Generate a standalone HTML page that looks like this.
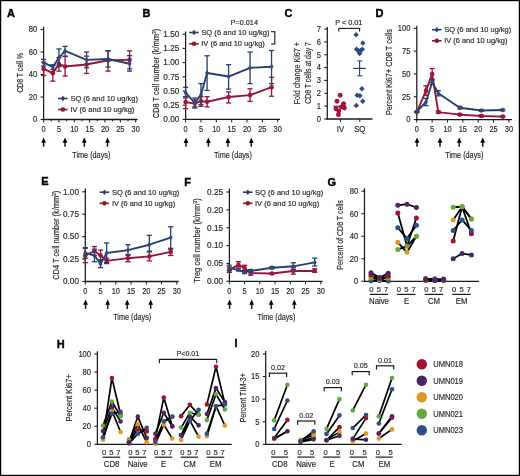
<!DOCTYPE html>
<html><head><meta charset="utf-8"><title>Figure</title>
<style>
html,body{margin:0;padding:0;background:#fff;}
body{width:520px;height:476px;overflow:hidden;}
svg{display:block;font-family:"Liberation Sans",sans-serif;}
svg{will-change:transform;}
text{stroke:#333;stroke-width:0.18px;}
</style></head>
<body>
<svg width="520" height="476" viewBox="0 0 520 476">
<rect x="0" y="0" width="520" height="476" fill="#fff"/>
<text x="7" y="16.6" font-size="11" text-anchor="start" fill="#000" font-weight="bold" style="stroke:#000;stroke-width:0.4px">A</text>
<line x1="43.6" y1="26.6" x2="43.6" y2="120.1" stroke="#1a1a1a" stroke-width="1.25" stroke-linecap="butt"/>
<line x1="40.6" y1="119.5" x2="43.6" y2="119.5" stroke="#1a1a1a" stroke-width="1.1" stroke-linecap="butt"/>
<text x="37.3" y="122.3" font-size="8.2" text-anchor="end" fill="#262626" textLength="4.24" lengthAdjust="spacingAndGlyphs">0</text>
<line x1="40.6" y1="97" x2="43.6" y2="97" stroke="#1a1a1a" stroke-width="1.1" stroke-linecap="butt"/>
<text x="37.3" y="99.8" font-size="8.2" text-anchor="end" fill="#262626" textLength="8.48" lengthAdjust="spacingAndGlyphs">20</text>
<line x1="40.6" y1="74.5" x2="43.6" y2="74.5" stroke="#1a1a1a" stroke-width="1.1" stroke-linecap="butt"/>
<text x="37.3" y="77.3" font-size="8.2" text-anchor="end" fill="#262626" textLength="8.48" lengthAdjust="spacingAndGlyphs">40</text>
<line x1="40.6" y1="52" x2="43.6" y2="52" stroke="#1a1a1a" stroke-width="1.1" stroke-linecap="butt"/>
<text x="37.3" y="54.8" font-size="8.2" text-anchor="end" fill="#262626" textLength="8.48" lengthAdjust="spacingAndGlyphs">60</text>
<line x1="40.6" y1="29.5" x2="43.6" y2="29.5" stroke="#1a1a1a" stroke-width="1.1" stroke-linecap="butt"/>
<text x="37.3" y="32.3" font-size="8.2" text-anchor="end" fill="#262626" textLength="8.48" lengthAdjust="spacingAndGlyphs">80</text>
<line x1="43" y1="119.5" x2="137.5" y2="119.5" stroke="#1a1a1a" stroke-width="1.3" stroke-linecap="butt"/>
<line x1="43.6" y1="119.5" x2="43.6" y2="122.5" stroke="#1a1a1a" stroke-width="1" stroke-linecap="butt"/>
<text x="43.6" y="132.4" font-size="8.2" text-anchor="middle" fill="#262626" textLength="4.1" lengthAdjust="spacingAndGlyphs">0</text>
<line x1="51.27" y1="119.5" x2="51.27" y2="121.3" stroke="#1a1a1a" stroke-width="1" stroke-linecap="butt"/>
<line x1="58.95" y1="119.5" x2="58.95" y2="122.5" stroke="#1a1a1a" stroke-width="1" stroke-linecap="butt"/>
<text x="58.95" y="132.4" font-size="8.2" text-anchor="middle" fill="#262626" textLength="4.1" lengthAdjust="spacingAndGlyphs">5</text>
<line x1="66.62" y1="119.5" x2="66.62" y2="121.3" stroke="#1a1a1a" stroke-width="1" stroke-linecap="butt"/>
<line x1="74.3" y1="119.5" x2="74.3" y2="122.5" stroke="#1a1a1a" stroke-width="1" stroke-linecap="butt"/>
<text x="74.3" y="132.4" font-size="8.2" text-anchor="middle" fill="#262626" textLength="8.21" lengthAdjust="spacingAndGlyphs">10</text>
<line x1="81.97" y1="119.5" x2="81.97" y2="121.3" stroke="#1a1a1a" stroke-width="1" stroke-linecap="butt"/>
<line x1="89.65" y1="119.5" x2="89.65" y2="122.5" stroke="#1a1a1a" stroke-width="1" stroke-linecap="butt"/>
<text x="89.65" y="132.4" font-size="8.2" text-anchor="middle" fill="#262626" textLength="8.21" lengthAdjust="spacingAndGlyphs">15</text>
<line x1="97.32" y1="119.5" x2="97.32" y2="121.3" stroke="#1a1a1a" stroke-width="1" stroke-linecap="butt"/>
<line x1="105" y1="119.5" x2="105" y2="122.5" stroke="#1a1a1a" stroke-width="1" stroke-linecap="butt"/>
<text x="105" y="132.4" font-size="8.2" text-anchor="middle" fill="#262626" textLength="8.21" lengthAdjust="spacingAndGlyphs">20</text>
<line x1="112.68" y1="119.5" x2="112.68" y2="121.3" stroke="#1a1a1a" stroke-width="1" stroke-linecap="butt"/>
<line x1="120.35" y1="119.5" x2="120.35" y2="122.5" stroke="#1a1a1a" stroke-width="1" stroke-linecap="butt"/>
<text x="120.35" y="132.4" font-size="8.2" text-anchor="middle" fill="#262626" textLength="8.21" lengthAdjust="spacingAndGlyphs">25</text>
<line x1="128.03" y1="119.5" x2="128.03" y2="121.3" stroke="#1a1a1a" stroke-width="1" stroke-linecap="butt"/>
<line x1="135.7" y1="119.5" x2="135.7" y2="122.5" stroke="#1a1a1a" stroke-width="1" stroke-linecap="butt"/>
<text x="135.7" y="132.4" font-size="8.2" text-anchor="middle" fill="#262626" textLength="8.21" lengthAdjust="spacingAndGlyphs">30</text>
<line x1="43.6" y1="140.4" x2="43.6" y2="146.7" stroke="#1a1a1a" stroke-width="1.5" stroke-linecap="butt"/>
<path d="M43.6 137.4L45.95 142.7L41.25 142.7Z" fill="#000"/>
<line x1="65" y1="140.4" x2="65" y2="146.7" stroke="#1a1a1a" stroke-width="1.5" stroke-linecap="butt"/>
<path d="M65 137.4L67.35 142.7L62.65 142.7Z" fill="#000"/>
<line x1="84.3" y1="140.4" x2="84.3" y2="146.7" stroke="#1a1a1a" stroke-width="1.5" stroke-linecap="butt"/>
<path d="M84.3 137.4L86.65 142.7L81.95 142.7Z" fill="#000"/>
<line x1="107.5" y1="140.4" x2="107.5" y2="146.7" stroke="#1a1a1a" stroke-width="1.5" stroke-linecap="butt"/>
<path d="M107.5 137.4L109.85 142.7L105.15 142.7Z" fill="#000"/>
<text x="91.3" y="157.6" font-size="9" text-anchor="middle" fill="#262626" textLength="38" lengthAdjust="spacingAndGlyphs">Time (days)</text>
<text x="23" y="72.8" font-size="8.4" text-anchor="middle" fill="#262626" textLength="39.6" lengthAdjust="spacingAndGlyphs" transform="rotate(-90 23 72.8)">CD8 T cell %</text>
<line x1="43.6" y1="75.51" x2="43.6" y2="62.12" stroke="#941636" stroke-width="1.3" stroke-linecap="butt"/>
<line x1="41" y1="75.51" x2="46.2" y2="75.51" stroke="#941636" stroke-width="1.3" stroke-linecap="butt"/>
<line x1="41" y1="62.12" x2="46.2" y2="62.12" stroke="#941636" stroke-width="1.3" stroke-linecap="butt"/>
<line x1="52.81" y1="81.14" x2="52.81" y2="65.5" stroke="#941636" stroke-width="1.3" stroke-linecap="butt"/>
<line x1="50.21" y1="81.14" x2="55.41" y2="81.14" stroke="#941636" stroke-width="1.3" stroke-linecap="butt"/>
<line x1="50.21" y1="65.5" x2="55.41" y2="65.5" stroke="#941636" stroke-width="1.3" stroke-linecap="butt"/>
<line x1="58.95" y1="71.12" x2="58.95" y2="57.62" stroke="#941636" stroke-width="1.3" stroke-linecap="butt"/>
<line x1="56.35" y1="71.12" x2="61.55" y2="71.12" stroke="#941636" stroke-width="1.3" stroke-linecap="butt"/>
<line x1="56.35" y1="57.62" x2="61.55" y2="57.62" stroke="#941636" stroke-width="1.3" stroke-linecap="butt"/>
<line x1="65.09" y1="76.07" x2="65.09" y2="56.5" stroke="#941636" stroke-width="1.3" stroke-linecap="butt"/>
<line x1="62.49" y1="76.07" x2="67.69" y2="76.07" stroke="#941636" stroke-width="1.3" stroke-linecap="butt"/>
<line x1="62.49" y1="56.5" x2="67.69" y2="56.5" stroke="#941636" stroke-width="1.3" stroke-linecap="butt"/>
<line x1="86.58" y1="73.49" x2="86.58" y2="56.16" stroke="#941636" stroke-width="1.3" stroke-linecap="butt"/>
<line x1="83.98" y1="73.49" x2="89.18" y2="73.49" stroke="#941636" stroke-width="1.3" stroke-linecap="butt"/>
<line x1="83.98" y1="56.16" x2="89.18" y2="56.16" stroke="#941636" stroke-width="1.3" stroke-linecap="butt"/>
<line x1="108.07" y1="71.12" x2="108.07" y2="50.88" stroke="#941636" stroke-width="1.3" stroke-linecap="butt"/>
<line x1="105.47" y1="71.12" x2="110.67" y2="71.12" stroke="#941636" stroke-width="1.3" stroke-linecap="butt"/>
<line x1="105.47" y1="50.88" x2="110.67" y2="50.88" stroke="#941636" stroke-width="1.3" stroke-linecap="butt"/>
<line x1="129.56" y1="68.88" x2="129.56" y2="50.88" stroke="#941636" stroke-width="1.3" stroke-linecap="butt"/>
<line x1="126.96" y1="68.88" x2="132.16" y2="68.88" stroke="#941636" stroke-width="1.3" stroke-linecap="butt"/>
<line x1="126.96" y1="50.88" x2="132.16" y2="50.88" stroke="#941636" stroke-width="1.3" stroke-linecap="butt"/>
<polyline points="43.6,68.88 52.81,73.15 58.95,64.15 65.09,66.51 86.58,64.49 108.07,60.21 129.56,59.88" fill="none" stroke="#941636" stroke-width="1.9" stroke-linejoin="round"/>
<circle cx="43.6" cy="68.88" r="2.3" fill="#a5133a"/>
<circle cx="52.81" cy="73.15" r="2.3" fill="#a5133a"/>
<circle cx="58.95" cy="64.15" r="2.3" fill="#a5133a"/>
<circle cx="65.09" cy="66.51" r="2.3" fill="#a5133a"/>
<circle cx="86.58" cy="64.49" r="2.3" fill="#a5133a"/>
<circle cx="108.07" cy="60.21" r="2.3" fill="#a5133a"/>
<circle cx="129.56" cy="59.88" r="2.3" fill="#a5133a"/>
<line x1="43.6" y1="66.06" x2="43.6" y2="59.43" stroke="#263f6c" stroke-width="1.3" stroke-linecap="butt"/>
<line x1="41" y1="66.06" x2="46.2" y2="66.06" stroke="#263f6c" stroke-width="1.3" stroke-linecap="butt"/>
<line x1="41" y1="59.43" x2="46.2" y2="59.43" stroke="#263f6c" stroke-width="1.3" stroke-linecap="butt"/>
<line x1="52.81" y1="69.44" x2="52.81" y2="64.82" stroke="#263f6c" stroke-width="1.3" stroke-linecap="butt"/>
<line x1="50.21" y1="69.44" x2="55.41" y2="69.44" stroke="#263f6c" stroke-width="1.3" stroke-linecap="butt"/>
<line x1="50.21" y1="64.82" x2="55.41" y2="64.82" stroke="#263f6c" stroke-width="1.3" stroke-linecap="butt"/>
<line x1="58.95" y1="66.62" x2="58.95" y2="48.96" stroke="#263f6c" stroke-width="1.3" stroke-linecap="butt"/>
<line x1="56.35" y1="66.62" x2="61.55" y2="66.62" stroke="#263f6c" stroke-width="1.3" stroke-linecap="butt"/>
<line x1="56.35" y1="48.96" x2="61.55" y2="48.96" stroke="#263f6c" stroke-width="1.3" stroke-linecap="butt"/>
<line x1="65.09" y1="56.27" x2="65.09" y2="46.38" stroke="#263f6c" stroke-width="1.3" stroke-linecap="butt"/>
<line x1="62.49" y1="56.27" x2="67.69" y2="56.27" stroke="#263f6c" stroke-width="1.3" stroke-linecap="butt"/>
<line x1="62.49" y1="46.38" x2="67.69" y2="46.38" stroke="#263f6c" stroke-width="1.3" stroke-linecap="butt"/>
<line x1="86.58" y1="67.75" x2="86.58" y2="52" stroke="#263f6c" stroke-width="1.3" stroke-linecap="butt"/>
<line x1="83.98" y1="67.75" x2="89.18" y2="67.75" stroke="#263f6c" stroke-width="1.3" stroke-linecap="butt"/>
<line x1="83.98" y1="52" x2="89.18" y2="52" stroke="#263f6c" stroke-width="1.3" stroke-linecap="butt"/>
<line x1="108.07" y1="67.07" x2="108.07" y2="50.65" stroke="#263f6c" stroke-width="1.3" stroke-linecap="butt"/>
<line x1="105.47" y1="67.07" x2="110.67" y2="67.07" stroke="#263f6c" stroke-width="1.3" stroke-linecap="butt"/>
<line x1="105.47" y1="50.65" x2="110.67" y2="50.65" stroke="#263f6c" stroke-width="1.3" stroke-linecap="butt"/>
<line x1="129.56" y1="71.12" x2="129.56" y2="55.6" stroke="#263f6c" stroke-width="1.3" stroke-linecap="butt"/>
<line x1="126.96" y1="71.12" x2="132.16" y2="71.12" stroke="#263f6c" stroke-width="1.3" stroke-linecap="butt"/>
<line x1="126.96" y1="55.6" x2="132.16" y2="55.6" stroke="#263f6c" stroke-width="1.3" stroke-linecap="butt"/>
<polyline points="43.6,62.69 52.81,66.96 58.95,57.62 65.09,50.88 86.58,59.88 108.07,58.98 129.56,63.7" fill="none" stroke="#263f6c" stroke-width="1.9" stroke-linejoin="round"/>
<path d="M43.6 59.99L45.7 62.69L43.6 65.39L41.5 62.69Z" fill="#2b4a80"/>
<path d="M52.81 64.26L54.91 66.96L52.81 69.66L50.71 66.96Z" fill="#2b4a80"/>
<path d="M58.95 54.92L61.05 57.62L58.95 60.33L56.85 57.62Z" fill="#2b4a80"/>
<path d="M65.09 48.17L67.19 50.88L65.09 53.58L62.99 50.88Z" fill="#2b4a80"/>
<path d="M86.58 57.17L88.68 59.88L86.58 62.58L84.48 59.88Z" fill="#2b4a80"/>
<path d="M108.07 56.27L110.17 58.98L108.07 61.68L105.97 58.98Z" fill="#2b4a80"/>
<path d="M129.56 61L131.66 63.7L129.56 66.4L127.46 63.7Z" fill="#2b4a80"/>
<line x1="58.1" y1="98.5" x2="67.6" y2="98.5" stroke="#263f6c" stroke-width="1.6" stroke-linecap="butt"/>
<path d="M62.9 95.8L65 98.5L62.9 101.2L60.8 98.5Z" fill="#263f6c"/>
<text x="70.4" y="101.1" font-size="7.4" text-anchor="start" fill="#262626" textLength="67.5" lengthAdjust="spacingAndGlyphs">SQ (6 and 10 ug/kg)</text>
<line x1="58.1" y1="109.5" x2="67.6" y2="109.5" stroke="#941636" stroke-width="1.6" stroke-linecap="butt"/>
<circle cx="62.9" cy="109.5" r="2.3" fill="#941636"/>
<text x="70.4" y="112.1" font-size="7.4" text-anchor="start" fill="#262626" textLength="64" lengthAdjust="spacingAndGlyphs">IV (6 and 10 ug/kg)</text>
<text x="142.6" y="16.8" font-size="11" text-anchor="start" fill="#000" font-weight="bold" style="stroke:#000;stroke-width:0.4px">B</text>
<line x1="185.6" y1="31.5" x2="185.6" y2="120" stroke="#1a1a1a" stroke-width="1.25" stroke-linecap="butt"/>
<line x1="182.6" y1="119.4" x2="185.6" y2="119.4" stroke="#1a1a1a" stroke-width="1.1" stroke-linecap="butt"/>
<text x="179.3" y="122.2" font-size="8.2" text-anchor="end" fill="#262626" textLength="15.96" lengthAdjust="spacingAndGlyphs">0.00</text>
<line x1="182.6" y1="105.2" x2="185.6" y2="105.2" stroke="#1a1a1a" stroke-width="1.1" stroke-linecap="butt"/>
<text x="179.3" y="108" font-size="8.2" text-anchor="end" fill="#262626" textLength="15.96" lengthAdjust="spacingAndGlyphs">0.25</text>
<line x1="182.6" y1="91" x2="185.6" y2="91" stroke="#1a1a1a" stroke-width="1.1" stroke-linecap="butt"/>
<text x="179.3" y="93.8" font-size="8.2" text-anchor="end" fill="#262626" textLength="15.96" lengthAdjust="spacingAndGlyphs">0.50</text>
<line x1="182.6" y1="76.8" x2="185.6" y2="76.8" stroke="#1a1a1a" stroke-width="1.1" stroke-linecap="butt"/>
<text x="179.3" y="79.6" font-size="8.2" text-anchor="end" fill="#262626" textLength="15.96" lengthAdjust="spacingAndGlyphs">0.75</text>
<line x1="182.6" y1="62.6" x2="185.6" y2="62.6" stroke="#1a1a1a" stroke-width="1.1" stroke-linecap="butt"/>
<text x="179.3" y="65.4" font-size="8.2" text-anchor="end" fill="#262626" textLength="15.96" lengthAdjust="spacingAndGlyphs">1.00</text>
<line x1="182.6" y1="48.4" x2="185.6" y2="48.4" stroke="#1a1a1a" stroke-width="1.1" stroke-linecap="butt"/>
<text x="179.3" y="51.2" font-size="8.2" text-anchor="end" fill="#262626" textLength="15.96" lengthAdjust="spacingAndGlyphs">1.25</text>
<line x1="182.6" y1="34.2" x2="185.6" y2="34.2" stroke="#1a1a1a" stroke-width="1.1" stroke-linecap="butt"/>
<text x="179.3" y="37" font-size="8.2" text-anchor="end" fill="#262626" textLength="15.96" lengthAdjust="spacingAndGlyphs">1.50</text>
<line x1="185" y1="119.4" x2="280" y2="119.4" stroke="#1a1a1a" stroke-width="1.3" stroke-linecap="butt"/>
<line x1="185.6" y1="119.4" x2="185.6" y2="122.4" stroke="#1a1a1a" stroke-width="1" stroke-linecap="butt"/>
<text x="185.6" y="132.4" font-size="8.2" text-anchor="middle" fill="#262626" textLength="4.1" lengthAdjust="spacingAndGlyphs">0</text>
<line x1="200.95" y1="119.4" x2="200.95" y2="122.4" stroke="#1a1a1a" stroke-width="1" stroke-linecap="butt"/>
<text x="200.95" y="132.4" font-size="8.2" text-anchor="middle" fill="#262626" textLength="4.1" lengthAdjust="spacingAndGlyphs">5</text>
<line x1="216.3" y1="119.4" x2="216.3" y2="122.4" stroke="#1a1a1a" stroke-width="1" stroke-linecap="butt"/>
<text x="216.3" y="132.4" font-size="8.2" text-anchor="middle" fill="#262626" textLength="8.21" lengthAdjust="spacingAndGlyphs">10</text>
<line x1="231.65" y1="119.4" x2="231.65" y2="122.4" stroke="#1a1a1a" stroke-width="1" stroke-linecap="butt"/>
<text x="231.65" y="132.4" font-size="8.2" text-anchor="middle" fill="#262626" textLength="8.21" lengthAdjust="spacingAndGlyphs">15</text>
<line x1="247" y1="119.4" x2="247" y2="122.4" stroke="#1a1a1a" stroke-width="1" stroke-linecap="butt"/>
<text x="247" y="132.4" font-size="8.2" text-anchor="middle" fill="#262626" textLength="8.21" lengthAdjust="spacingAndGlyphs">20</text>
<line x1="262.35" y1="119.4" x2="262.35" y2="122.4" stroke="#1a1a1a" stroke-width="1" stroke-linecap="butt"/>
<text x="262.35" y="132.4" font-size="8.2" text-anchor="middle" fill="#262626" textLength="8.21" lengthAdjust="spacingAndGlyphs">25</text>
<line x1="277.7" y1="119.4" x2="277.7" y2="122.4" stroke="#1a1a1a" stroke-width="1" stroke-linecap="butt"/>
<text x="277.7" y="132.4" font-size="8.2" text-anchor="middle" fill="#262626" textLength="8.21" lengthAdjust="spacingAndGlyphs">30</text>
<line x1="186" y1="140.6" x2="186" y2="146.7" stroke="#1a1a1a" stroke-width="1.5" stroke-linecap="butt"/>
<path d="M186 137.6L188.35 142.9L183.65 142.9Z" fill="#000"/>
<line x1="208.4" y1="140.6" x2="208.4" y2="146.7" stroke="#1a1a1a" stroke-width="1.5" stroke-linecap="butt"/>
<path d="M208.4 137.6L210.75 142.9L206.05 142.9Z" fill="#000"/>
<line x1="227.9" y1="140.6" x2="227.9" y2="146.7" stroke="#1a1a1a" stroke-width="1.5" stroke-linecap="butt"/>
<path d="M227.9 137.6L230.25 142.9L225.55 142.9Z" fill="#000"/>
<line x1="251.3" y1="140.6" x2="251.3" y2="146.7" stroke="#1a1a1a" stroke-width="1.5" stroke-linecap="butt"/>
<path d="M251.3 137.6L253.65 142.9L248.95 142.9Z" fill="#000"/>
<text x="232.9" y="157.6" font-size="9" text-anchor="middle" fill="#262626" textLength="38" lengthAdjust="spacingAndGlyphs">Time (days)</text>
<text x="158.6" y="73.5" font-size="8.8" text-anchor="middle" fill="#262626" textLength="89.4" lengthAdjust="spacingAndGlyphs" transform="rotate(-90 158.6 73.5)">CD8 T cell number (k/mm<tspan font-size="5.98" dy="-2.9">3</tspan><tspan dy="2.9">)</tspan></text>
<line x1="185.6" y1="108.61" x2="185.6" y2="96.68" stroke="#941636" stroke-width="1.3" stroke-linecap="butt"/>
<line x1="183" y1="108.61" x2="188.2" y2="108.61" stroke="#941636" stroke-width="1.3" stroke-linecap="butt"/>
<line x1="183" y1="96.68" x2="188.2" y2="96.68" stroke="#941636" stroke-width="1.3" stroke-linecap="butt"/>
<line x1="194.81" y1="106.9" x2="194.81" y2="100.09" stroke="#941636" stroke-width="1.3" stroke-linecap="butt"/>
<line x1="192.21" y1="106.9" x2="197.41" y2="106.9" stroke="#941636" stroke-width="1.3" stroke-linecap="butt"/>
<line x1="192.21" y1="100.09" x2="197.41" y2="100.09" stroke="#941636" stroke-width="1.3" stroke-linecap="butt"/>
<line x1="200.95" y1="104.63" x2="200.95" y2="96.68" stroke="#941636" stroke-width="1.3" stroke-linecap="butt"/>
<line x1="198.35" y1="104.63" x2="203.55" y2="104.63" stroke="#941636" stroke-width="1.3" stroke-linecap="butt"/>
<line x1="198.35" y1="96.68" x2="203.55" y2="96.68" stroke="#941636" stroke-width="1.3" stroke-linecap="butt"/>
<line x1="207.09" y1="106.9" x2="207.09" y2="96.68" stroke="#941636" stroke-width="1.3" stroke-linecap="butt"/>
<line x1="204.49" y1="106.9" x2="209.69" y2="106.9" stroke="#941636" stroke-width="1.3" stroke-linecap="butt"/>
<line x1="204.49" y1="96.68" x2="209.69" y2="96.68" stroke="#941636" stroke-width="1.3" stroke-linecap="butt"/>
<line x1="228.58" y1="102.98" x2="228.58" y2="91.91" stroke="#941636" stroke-width="1.3" stroke-linecap="butt"/>
<line x1="225.98" y1="102.98" x2="231.18" y2="102.98" stroke="#941636" stroke-width="1.3" stroke-linecap="butt"/>
<line x1="225.98" y1="91.91" x2="231.18" y2="91.91" stroke="#941636" stroke-width="1.3" stroke-linecap="butt"/>
<line x1="250.07" y1="101.39" x2="250.07" y2="88.78" stroke="#941636" stroke-width="1.3" stroke-linecap="butt"/>
<line x1="247.47" y1="101.39" x2="252.67" y2="101.39" stroke="#941636" stroke-width="1.3" stroke-linecap="butt"/>
<line x1="247.47" y1="88.78" x2="252.67" y2="88.78" stroke="#941636" stroke-width="1.3" stroke-linecap="butt"/>
<line x1="271.56" y1="96.23" x2="271.56" y2="77.31" stroke="#941636" stroke-width="1.3" stroke-linecap="butt"/>
<line x1="268.96" y1="96.23" x2="274.16" y2="96.23" stroke="#941636" stroke-width="1.3" stroke-linecap="butt"/>
<line x1="268.96" y1="77.31" x2="274.16" y2="77.31" stroke="#941636" stroke-width="1.3" stroke-linecap="butt"/>
<polyline points="185.6,102.08 194.81,103.5 200.95,101.22 207.09,101.79 228.58,97.02 250.07,95.09 271.56,87.19" fill="none" stroke="#941636" stroke-width="1.9" stroke-linejoin="round"/>
<circle cx="185.6" cy="102.08" r="2.3" fill="#a5133a"/>
<circle cx="194.81" cy="103.5" r="2.3" fill="#a5133a"/>
<circle cx="200.95" cy="101.22" r="2.3" fill="#a5133a"/>
<circle cx="207.09" cy="101.79" r="2.3" fill="#a5133a"/>
<circle cx="228.58" cy="97.02" r="2.3" fill="#a5133a"/>
<circle cx="250.07" cy="95.09" r="2.3" fill="#a5133a"/>
<circle cx="271.56" cy="87.19" r="2.3" fill="#a5133a"/>
<line x1="185.6" y1="97.82" x2="185.6" y2="87.31" stroke="#263f6c" stroke-width="1.3" stroke-linecap="butt"/>
<line x1="183" y1="97.82" x2="188.2" y2="97.82" stroke="#263f6c" stroke-width="1.3" stroke-linecap="butt"/>
<line x1="183" y1="87.31" x2="188.2" y2="87.31" stroke="#263f6c" stroke-width="1.3" stroke-linecap="butt"/>
<line x1="194.81" y1="108.04" x2="194.81" y2="97.99" stroke="#263f6c" stroke-width="1.3" stroke-linecap="butt"/>
<line x1="192.21" y1="108.04" x2="197.41" y2="108.04" stroke="#263f6c" stroke-width="1.3" stroke-linecap="butt"/>
<line x1="192.21" y1="97.99" x2="197.41" y2="97.99" stroke="#263f6c" stroke-width="1.3" stroke-linecap="butt"/>
<line x1="200.95" y1="106.34" x2="200.95" y2="83.62" stroke="#263f6c" stroke-width="1.3" stroke-linecap="butt"/>
<line x1="198.35" y1="106.34" x2="203.55" y2="106.34" stroke="#263f6c" stroke-width="1.3" stroke-linecap="butt"/>
<line x1="198.35" y1="83.62" x2="203.55" y2="83.62" stroke="#263f6c" stroke-width="1.3" stroke-linecap="butt"/>
<line x1="207.09" y1="90.43" x2="207.09" y2="55.78" stroke="#263f6c" stroke-width="1.3" stroke-linecap="butt"/>
<line x1="204.49" y1="90.43" x2="209.69" y2="90.43" stroke="#263f6c" stroke-width="1.3" stroke-linecap="butt"/>
<line x1="204.49" y1="55.78" x2="209.69" y2="55.78" stroke="#263f6c" stroke-width="1.3" stroke-linecap="butt"/>
<line x1="228.58" y1="89.13" x2="228.58" y2="64.7" stroke="#263f6c" stroke-width="1.3" stroke-linecap="butt"/>
<line x1="225.98" y1="89.13" x2="231.18" y2="89.13" stroke="#263f6c" stroke-width="1.3" stroke-linecap="butt"/>
<line x1="225.98" y1="64.7" x2="231.18" y2="64.7" stroke="#263f6c" stroke-width="1.3" stroke-linecap="butt"/>
<line x1="250.07" y1="83.62" x2="250.07" y2="52.09" stroke="#263f6c" stroke-width="1.3" stroke-linecap="butt"/>
<line x1="247.47" y1="83.62" x2="252.67" y2="83.62" stroke="#263f6c" stroke-width="1.3" stroke-linecap="butt"/>
<line x1="247.47" y1="52.09" x2="252.67" y2="52.09" stroke="#263f6c" stroke-width="1.3" stroke-linecap="butt"/>
<line x1="271.56" y1="83.62" x2="271.56" y2="50.5" stroke="#263f6c" stroke-width="1.3" stroke-linecap="butt"/>
<line x1="268.96" y1="83.62" x2="274.16" y2="83.62" stroke="#263f6c" stroke-width="1.3" stroke-linecap="butt"/>
<line x1="268.96" y1="50.5" x2="274.16" y2="50.5" stroke="#263f6c" stroke-width="1.3" stroke-linecap="butt"/>
<polyline points="185.6,92.7 194.81,102.93 200.95,94.98 207.09,72.99 228.58,76.52 250.07,67.83 271.56,66.69" fill="none" stroke="#263f6c" stroke-width="1.9" stroke-linejoin="round"/>
<path d="M185.6 90L187.7 92.7L185.6 95.4L183.5 92.7Z" fill="#2b4a80"/>
<path d="M194.81 100.23L196.91 102.93L194.81 105.63L192.71 102.93Z" fill="#2b4a80"/>
<path d="M200.95 92.28L203.05 94.98L200.95 97.68L198.85 94.98Z" fill="#2b4a80"/>
<path d="M207.09 70.29L209.19 72.99L207.09 75.69L204.99 72.99Z" fill="#2b4a80"/>
<path d="M228.58 73.82L230.68 76.52L228.58 79.22L226.48 76.52Z" fill="#2b4a80"/>
<path d="M250.07 65.13L252.17 67.83L250.07 70.53L247.97 67.83Z" fill="#2b4a80"/>
<path d="M271.56 63.99L273.66 66.69L271.56 69.39L269.46 66.69Z" fill="#2b4a80"/>
<line x1="189.2" y1="32.5" x2="198.7" y2="32.5" stroke="#263f6c" stroke-width="1.6" stroke-linecap="butt"/>
<path d="M194 29.8L196.1 32.5L194 35.2L191.9 32.5Z" fill="#263f6c"/>
<text x="201.3" y="35.1" font-size="7.4" text-anchor="start" fill="#262626" textLength="68.3" lengthAdjust="spacingAndGlyphs">SQ (6 and 10 ug/kg)</text>
<line x1="189.2" y1="43.8" x2="198.7" y2="43.8" stroke="#941636" stroke-width="1.6" stroke-linecap="butt"/>
<circle cx="194" cy="43.8" r="2.3" fill="#941636"/>
<text x="201.3" y="46.4" font-size="7.4" text-anchor="start" fill="#262626" textLength="63.5" lengthAdjust="spacingAndGlyphs">IV (6 and 10 ug/kg)</text>
<text x="244.3" y="25" font-size="7.4" text-anchor="middle" fill="#262626" textLength="27.4" lengthAdjust="spacingAndGlyphs">P=0.014</text>
<line x1="274.8" y1="31.7" x2="274.8" y2="44" stroke="#1a1a1a" stroke-width="1.1" stroke-linecap="butt"/>
<line x1="271" y1="31.7" x2="275.3" y2="31.7" stroke="#1a1a1a" stroke-width="1.1" stroke-linecap="butt"/>
<line x1="271" y1="44" x2="275.3" y2="44" stroke="#1a1a1a" stroke-width="1.1" stroke-linecap="butt"/>
<text x="284.4" y="16.8" font-size="11" text-anchor="start" fill="#000" font-weight="bold" style="stroke:#000;stroke-width:0.4px">C</text>
<line x1="327.3" y1="26.9" x2="327.3" y2="119.6" stroke="#1a1a1a" stroke-width="1.25" stroke-linecap="butt"/>
<line x1="324.3" y1="119" x2="327.3" y2="119" stroke="#1a1a1a" stroke-width="1.1" stroke-linecap="butt"/>
<text x="321" y="121.8" font-size="8.2" text-anchor="end" fill="#262626" textLength="4.24" lengthAdjust="spacingAndGlyphs">0</text>
<line x1="324.3" y1="106.15" x2="327.3" y2="106.15" stroke="#1a1a1a" stroke-width="1.1" stroke-linecap="butt"/>
<text x="321" y="108.95" font-size="8.2" text-anchor="end" fill="#262626" textLength="4.24" lengthAdjust="spacingAndGlyphs">1</text>
<line x1="324.3" y1="93.3" x2="327.3" y2="93.3" stroke="#1a1a1a" stroke-width="1.1" stroke-linecap="butt"/>
<text x="321" y="96.1" font-size="8.2" text-anchor="end" fill="#262626" textLength="4.24" lengthAdjust="spacingAndGlyphs">2</text>
<line x1="324.3" y1="80.45" x2="327.3" y2="80.45" stroke="#1a1a1a" stroke-width="1.1" stroke-linecap="butt"/>
<text x="321" y="83.25" font-size="8.2" text-anchor="end" fill="#262626" textLength="4.24" lengthAdjust="spacingAndGlyphs">3</text>
<line x1="324.3" y1="67.6" x2="327.3" y2="67.6" stroke="#1a1a1a" stroke-width="1.1" stroke-linecap="butt"/>
<text x="321" y="70.4" font-size="8.2" text-anchor="end" fill="#262626" textLength="4.24" lengthAdjust="spacingAndGlyphs">4</text>
<line x1="324.3" y1="54.75" x2="327.3" y2="54.75" stroke="#1a1a1a" stroke-width="1.1" stroke-linecap="butt"/>
<text x="321" y="57.55" font-size="8.2" text-anchor="end" fill="#262626" textLength="4.24" lengthAdjust="spacingAndGlyphs">5</text>
<line x1="324.3" y1="41.9" x2="327.3" y2="41.9" stroke="#1a1a1a" stroke-width="1.1" stroke-linecap="butt"/>
<text x="321" y="44.7" font-size="8.2" text-anchor="end" fill="#262626" textLength="4.24" lengthAdjust="spacingAndGlyphs">6</text>
<line x1="324.3" y1="29.05" x2="327.3" y2="29.05" stroke="#1a1a1a" stroke-width="1.1" stroke-linecap="butt"/>
<text x="321" y="31.85" font-size="8.2" text-anchor="end" fill="#262626" textLength="4.24" lengthAdjust="spacingAndGlyphs">7</text>
<line x1="326.7" y1="119" x2="372.5" y2="119" stroke="#1a1a1a" stroke-width="1.3" stroke-linecap="butt"/>
<line x1="340.5" y1="119" x2="340.5" y2="121.9" stroke="#1a1a1a" stroke-width="1" stroke-linecap="butt"/>
<line x1="359.8" y1="119" x2="359.8" y2="121.9" stroke="#1a1a1a" stroke-width="1" stroke-linecap="butt"/>
<text x="340.5" y="132" font-size="8.2" text-anchor="middle" fill="#262626" textLength="7.36" lengthAdjust="spacingAndGlyphs">IV</text>
<text x="359.8" y="132" font-size="8.2" text-anchor="middle" fill="#262626" textLength="11.26" lengthAdjust="spacingAndGlyphs">SQ</text>
<text x="299.7" y="73.1" font-size="8.8" text-anchor="middle" fill="#262626" textLength="62.4" lengthAdjust="spacingAndGlyphs" transform="rotate(-90 299.7 73.1)">Fold change Ki67 +</text>
<text x="310.9" y="72.9" font-size="8.8" text-anchor="middle" fill="#262626" textLength="61.6" lengthAdjust="spacingAndGlyphs" transform="rotate(-90 310.9 72.9)">CD8 T cells at day 7</text>
<text x="348.8" y="24.6" font-size="7.4" text-anchor="middle" fill="#262626" textLength="27.3" lengthAdjust="spacingAndGlyphs">P &lt; 0.01</text>
<line x1="338.8" y1="28.4" x2="359.6" y2="28.4" stroke="#1a1a1a" stroke-width="1.1" stroke-linecap="butt"/>
<line x1="338.8" y1="27.9" x2="338.8" y2="31.6" stroke="#1a1a1a" stroke-width="1.1" stroke-linecap="butt"/>
<line x1="359.6" y1="27.9" x2="359.6" y2="31.6" stroke="#1a1a1a" stroke-width="1.1" stroke-linecap="butt"/>
<circle cx="340.2" cy="95.2" r="2.45" fill="#a5133a"/>
<circle cx="337" cy="101.2" r="2.45" fill="#a5133a"/>
<circle cx="343.6" cy="103.6" r="2.45" fill="#a5133a"/>
<circle cx="343.2" cy="105.5" r="2.45" fill="#a5133a"/>
<circle cx="341.2" cy="107.1" r="2.45" fill="#a5133a"/>
<circle cx="344.4" cy="108" r="2.45" fill="#a5133a"/>
<circle cx="336" cy="108.7" r="2.45" fill="#a5133a"/>
<circle cx="338.8" cy="111.1" r="2.45" fill="#a5133a"/>
<circle cx="338.4" cy="114.7" r="2.45" fill="#a5133a"/>
<line x1="333.4" y1="106.3" x2="341.5" y2="106.3" stroke="#941636" stroke-width="1.2" stroke-linecap="butt"/>
<path d="M356.1 32L358.8 34.7L356.1 37.4L353.4 34.7Z" fill="#2b4a80"/>
<path d="M362.8 40.4L365.5 43.1L362.8 45.8L360.1 43.1Z" fill="#2b4a80"/>
<path d="M356.6 46.5L359.3 49.2L356.6 51.9L353.9 49.2Z" fill="#2b4a80"/>
<path d="M362.3 46.5L365 49.2L362.3 51.9L359.6 49.2Z" fill="#2b4a80"/>
<path d="M358.4 47.9L361.1 50.6L358.4 53.3L355.7 50.6Z" fill="#2b4a80"/>
<path d="M360.6 47.9L363.3 50.6L360.6 53.3L357.9 50.6Z" fill="#2b4a80"/>
<path d="M359.5 49.4L362.2 52.1L359.5 54.8L356.8 52.1Z" fill="#2b4a80"/>
<path d="M359.6 50.9L362.3 53.6L359.6 56.3L356.9 53.6Z" fill="#2b4a80"/>
<path d="M361.9 86.1L364.6 88.8L361.9 91.5L359.2 88.8Z" fill="#2b4a80"/>
<path d="M357.1 92.5L359.8 95.2L357.1 97.9L354.4 95.2Z" fill="#2b4a80"/>
<path d="M359.9 93.1L362.6 95.8L359.9 98.5L357.2 95.8Z" fill="#2b4a80"/>
<path d="M362.7 98.5L365.4 101.2L362.7 103.9L360 101.2Z" fill="#2b4a80"/>
<path d="M356.3 102.8L359 105.5L356.3 108.2L353.6 105.5Z" fill="#2b4a80"/>
<line x1="353.3" y1="68.4" x2="365.8" y2="68.4" stroke="#263f6c" stroke-width="1.2" stroke-linecap="butt"/>
<line x1="359.6" y1="60.9" x2="359.6" y2="75.8" stroke="#263f6c" stroke-width="1.1" stroke-linecap="butt"/>
<line x1="357.3" y1="60.9" x2="362.3" y2="60.9" stroke="#263f6c" stroke-width="1.1" stroke-linecap="butt"/>
<line x1="357.3" y1="75.8" x2="362.3" y2="75.8" stroke="#263f6c" stroke-width="1.1" stroke-linecap="butt"/>
<text x="375.4" y="16.8" font-size="11" text-anchor="start" fill="#000" font-weight="bold" style="stroke:#000;stroke-width:0.4px">D</text>
<line x1="416.8" y1="25.7" x2="416.8" y2="120.2" stroke="#1a1a1a" stroke-width="1.25" stroke-linecap="butt"/>
<line x1="413.8" y1="119.6" x2="416.8" y2="119.6" stroke="#1a1a1a" stroke-width="1.1" stroke-linecap="butt"/>
<text x="410.5" y="122.4" font-size="8.2" text-anchor="end" fill="#262626" textLength="4.24" lengthAdjust="spacingAndGlyphs">0</text>
<line x1="413.8" y1="96.76" x2="416.8" y2="96.76" stroke="#1a1a1a" stroke-width="1.1" stroke-linecap="butt"/>
<text x="410.5" y="99.56" font-size="8.2" text-anchor="end" fill="#262626" textLength="8.48" lengthAdjust="spacingAndGlyphs">25</text>
<line x1="413.8" y1="73.93" x2="416.8" y2="73.93" stroke="#1a1a1a" stroke-width="1.1" stroke-linecap="butt"/>
<text x="410.5" y="76.73" font-size="8.2" text-anchor="end" fill="#262626" textLength="8.48" lengthAdjust="spacingAndGlyphs">50</text>
<line x1="413.8" y1="51.09" x2="416.8" y2="51.09" stroke="#1a1a1a" stroke-width="1.1" stroke-linecap="butt"/>
<text x="410.5" y="53.89" font-size="8.2" text-anchor="end" fill="#262626" textLength="8.48" lengthAdjust="spacingAndGlyphs">75</text>
<line x1="413.8" y1="28.26" x2="416.8" y2="28.26" stroke="#1a1a1a" stroke-width="1.1" stroke-linecap="butt"/>
<text x="410.5" y="31.06" font-size="8.2" text-anchor="end" fill="#262626" textLength="12.72" lengthAdjust="spacingAndGlyphs">100</text>
<line x1="416.2" y1="119.6" x2="512" y2="119.6" stroke="#1a1a1a" stroke-width="1.3" stroke-linecap="butt"/>
<line x1="416.8" y1="119.6" x2="416.8" y2="122.6" stroke="#1a1a1a" stroke-width="1" stroke-linecap="butt"/>
<text x="416.8" y="132.2" font-size="8.2" text-anchor="middle" fill="#262626" textLength="4.1" lengthAdjust="spacingAndGlyphs">0</text>
<line x1="432.15" y1="119.6" x2="432.15" y2="122.6" stroke="#1a1a1a" stroke-width="1" stroke-linecap="butt"/>
<text x="432.15" y="132.2" font-size="8.2" text-anchor="middle" fill="#262626" textLength="4.1" lengthAdjust="spacingAndGlyphs">5</text>
<line x1="447.5" y1="119.6" x2="447.5" y2="122.6" stroke="#1a1a1a" stroke-width="1" stroke-linecap="butt"/>
<text x="447.5" y="132.2" font-size="8.2" text-anchor="middle" fill="#262626" textLength="8.21" lengthAdjust="spacingAndGlyphs">10</text>
<line x1="462.85" y1="119.6" x2="462.85" y2="122.6" stroke="#1a1a1a" stroke-width="1" stroke-linecap="butt"/>
<text x="462.85" y="132.2" font-size="8.2" text-anchor="middle" fill="#262626" textLength="8.21" lengthAdjust="spacingAndGlyphs">15</text>
<line x1="478.2" y1="119.6" x2="478.2" y2="122.6" stroke="#1a1a1a" stroke-width="1" stroke-linecap="butt"/>
<text x="478.2" y="132.2" font-size="8.2" text-anchor="middle" fill="#262626" textLength="8.21" lengthAdjust="spacingAndGlyphs">20</text>
<line x1="493.55" y1="119.6" x2="493.55" y2="122.6" stroke="#1a1a1a" stroke-width="1" stroke-linecap="butt"/>
<text x="493.55" y="132.2" font-size="8.2" text-anchor="middle" fill="#262626" textLength="8.21" lengthAdjust="spacingAndGlyphs">25</text>
<line x1="508.9" y1="119.6" x2="508.9" y2="122.6" stroke="#1a1a1a" stroke-width="1" stroke-linecap="butt"/>
<text x="508.9" y="132.2" font-size="8.2" text-anchor="middle" fill="#262626" textLength="8.21" lengthAdjust="spacingAndGlyphs">30</text>
<line x1="417" y1="140.4" x2="417" y2="146.7" stroke="#1a1a1a" stroke-width="1.5" stroke-linecap="butt"/>
<path d="M417 137.4L419.35 142.7L414.65 142.7Z" fill="#000"/>
<line x1="440" y1="140.4" x2="440" y2="146.7" stroke="#1a1a1a" stroke-width="1.5" stroke-linecap="butt"/>
<path d="M440 137.4L442.35 142.7L437.65 142.7Z" fill="#000"/>
<line x1="459.2" y1="140.4" x2="459.2" y2="146.7" stroke="#1a1a1a" stroke-width="1.5" stroke-linecap="butt"/>
<path d="M459.2 137.4L461.55 142.7L456.85 142.7Z" fill="#000"/>
<line x1="482.7" y1="140.4" x2="482.7" y2="146.7" stroke="#1a1a1a" stroke-width="1.5" stroke-linecap="butt"/>
<path d="M482.7 137.4L485.05 142.7L480.35 142.7Z" fill="#000"/>
<text x="464.3" y="158.3" font-size="9" text-anchor="middle" fill="#262626" textLength="38" lengthAdjust="spacingAndGlyphs">Time (days)</text>
<text x="391.8" y="72.1" font-size="8.7" text-anchor="middle" fill="#262626" textLength="86" lengthAdjust="spacingAndGlyphs" transform="rotate(-90 391.8 72.1)">Percent Ki67+ CD8 T cells</text>
<line x1="416.8" y1="112.11" x2="416.8" y2="112.11" stroke="#941636" stroke-width="1.3" stroke-linecap="butt"/>
<line x1="414.2" y1="112.11" x2="419.4" y2="112.11" stroke="#941636" stroke-width="1.3" stroke-linecap="butt"/>
<line x1="414.2" y1="112.11" x2="419.4" y2="112.11" stroke="#941636" stroke-width="1.3" stroke-linecap="butt"/>
<line x1="426.01" y1="95.39" x2="426.01" y2="85.8" stroke="#941636" stroke-width="1.3" stroke-linecap="butt"/>
<line x1="423.41" y1="95.39" x2="428.61" y2="95.39" stroke="#941636" stroke-width="1.3" stroke-linecap="butt"/>
<line x1="423.41" y1="85.8" x2="428.61" y2="85.8" stroke="#941636" stroke-width="1.3" stroke-linecap="butt"/>
<line x1="432.15" y1="79.41" x2="432.15" y2="68.54" stroke="#941636" stroke-width="1.3" stroke-linecap="butt"/>
<line x1="429.55" y1="79.41" x2="434.75" y2="79.41" stroke="#941636" stroke-width="1.3" stroke-linecap="butt"/>
<line x1="429.55" y1="68.54" x2="434.75" y2="68.54" stroke="#941636" stroke-width="1.3" stroke-linecap="butt"/>
<line x1="438.29" y1="113.21" x2="438.29" y2="111.01" stroke="#941636" stroke-width="1.3" stroke-linecap="butt"/>
<line x1="435.69" y1="113.21" x2="440.89" y2="113.21" stroke="#941636" stroke-width="1.3" stroke-linecap="butt"/>
<line x1="435.69" y1="111.01" x2="440.89" y2="111.01" stroke="#941636" stroke-width="1.3" stroke-linecap="butt"/>
<line x1="459.78" y1="115.4" x2="459.78" y2="113.75" stroke="#941636" stroke-width="1.3" stroke-linecap="butt"/>
<line x1="457.18" y1="115.4" x2="462.38" y2="115.4" stroke="#941636" stroke-width="1.3" stroke-linecap="butt"/>
<line x1="457.18" y1="113.75" x2="462.38" y2="113.75" stroke="#941636" stroke-width="1.3" stroke-linecap="butt"/>
<line x1="481.27" y1="116.86" x2="481.27" y2="115.03" stroke="#941636" stroke-width="1.3" stroke-linecap="butt"/>
<line x1="478.67" y1="116.86" x2="483.87" y2="116.86" stroke="#941636" stroke-width="1.3" stroke-linecap="butt"/>
<line x1="478.67" y1="115.03" x2="483.87" y2="115.03" stroke="#941636" stroke-width="1.3" stroke-linecap="butt"/>
<line x1="502.76" y1="117.32" x2="502.76" y2="115.86" stroke="#941636" stroke-width="1.3" stroke-linecap="butt"/>
<line x1="500.16" y1="117.32" x2="505.36" y2="117.32" stroke="#941636" stroke-width="1.3" stroke-linecap="butt"/>
<line x1="500.16" y1="115.86" x2="505.36" y2="115.86" stroke="#941636" stroke-width="1.3" stroke-linecap="butt"/>
<polyline points="416.8,112.11 426.01,90.65 432.15,74.11 438.29,112.11 459.78,114.58 481.27,115.95 502.76,116.59" fill="none" stroke="#941636" stroke-width="1.9" stroke-linejoin="round"/>
<circle cx="416.8" cy="112.11" r="2.3" fill="#a5133a"/>
<circle cx="426.01" cy="90.65" r="2.3" fill="#a5133a"/>
<circle cx="432.15" cy="74.11" r="2.3" fill="#a5133a"/>
<circle cx="438.29" cy="112.11" r="2.3" fill="#a5133a"/>
<circle cx="459.78" cy="114.58" r="2.3" fill="#a5133a"/>
<circle cx="481.27" cy="115.95" r="2.3" fill="#a5133a"/>
<circle cx="502.76" cy="116.59" r="2.3" fill="#a5133a"/>
<line x1="416.8" y1="111.47" x2="416.8" y2="111.47" stroke="#263f6c" stroke-width="1.3" stroke-linecap="butt"/>
<line x1="414.2" y1="111.47" x2="419.4" y2="111.47" stroke="#263f6c" stroke-width="1.3" stroke-linecap="butt"/>
<line x1="414.2" y1="111.47" x2="419.4" y2="111.47" stroke="#263f6c" stroke-width="1.3" stroke-linecap="butt"/>
<line x1="426.01" y1="105.62" x2="426.01" y2="98.41" stroke="#263f6c" stroke-width="1.3" stroke-linecap="butt"/>
<line x1="423.41" y1="105.62" x2="428.61" y2="105.62" stroke="#263f6c" stroke-width="1.3" stroke-linecap="butt"/>
<line x1="423.41" y1="98.41" x2="428.61" y2="98.41" stroke="#263f6c" stroke-width="1.3" stroke-linecap="butt"/>
<line x1="432.15" y1="84.43" x2="432.15" y2="80.05" stroke="#263f6c" stroke-width="1.3" stroke-linecap="butt"/>
<line x1="429.55" y1="84.43" x2="434.75" y2="84.43" stroke="#263f6c" stroke-width="1.3" stroke-linecap="butt"/>
<line x1="429.55" y1="80.05" x2="434.75" y2="80.05" stroke="#263f6c" stroke-width="1.3" stroke-linecap="butt"/>
<line x1="438.29" y1="95.85" x2="438.29" y2="90.65" stroke="#263f6c" stroke-width="1.3" stroke-linecap="butt"/>
<line x1="435.69" y1="95.85" x2="440.89" y2="95.85" stroke="#263f6c" stroke-width="1.3" stroke-linecap="butt"/>
<line x1="435.69" y1="90.65" x2="440.89" y2="90.65" stroke="#263f6c" stroke-width="1.3" stroke-linecap="butt"/>
<line x1="459.78" y1="109" x2="459.78" y2="106.45" stroke="#263f6c" stroke-width="1.3" stroke-linecap="butt"/>
<line x1="457.18" y1="109" x2="462.38" y2="109" stroke="#263f6c" stroke-width="1.3" stroke-linecap="butt"/>
<line x1="457.18" y1="106.45" x2="462.38" y2="106.45" stroke="#263f6c" stroke-width="1.3" stroke-linecap="butt"/>
<line x1="481.27" y1="111.38" x2="481.27" y2="109.55" stroke="#263f6c" stroke-width="1.3" stroke-linecap="butt"/>
<line x1="478.67" y1="111.38" x2="483.87" y2="111.38" stroke="#263f6c" stroke-width="1.3" stroke-linecap="butt"/>
<line x1="478.67" y1="109.55" x2="483.87" y2="109.55" stroke="#263f6c" stroke-width="1.3" stroke-linecap="butt"/>
<line x1="502.76" y1="110.92" x2="502.76" y2="109.1" stroke="#263f6c" stroke-width="1.3" stroke-linecap="butt"/>
<line x1="500.16" y1="110.92" x2="505.36" y2="110.92" stroke="#263f6c" stroke-width="1.3" stroke-linecap="butt"/>
<line x1="500.16" y1="109.1" x2="505.36" y2="109.1" stroke="#263f6c" stroke-width="1.3" stroke-linecap="butt"/>
<polyline points="416.8,111.47 426.01,101.97 432.15,82.24 438.29,93.2 459.78,107.73 481.27,110.47 502.76,110.01" fill="none" stroke="#263f6c" stroke-width="1.9" stroke-linejoin="round"/>
<path d="M416.8 108.77L418.9 111.47L416.8 114.17L414.7 111.47Z" fill="#2b4a80"/>
<path d="M426.01 99.27L428.11 101.97L426.01 104.67L423.91 101.97Z" fill="#2b4a80"/>
<path d="M432.15 79.54L434.25 82.24L432.15 84.94L430.05 82.24Z" fill="#2b4a80"/>
<path d="M438.29 90.5L440.39 93.2L438.29 95.9L436.19 93.2Z" fill="#2b4a80"/>
<path d="M459.78 105.03L461.88 107.73L459.78 110.43L457.68 107.73Z" fill="#2b4a80"/>
<path d="M481.27 107.77L483.37 110.47L481.27 113.17L479.17 110.47Z" fill="#2b4a80"/>
<path d="M502.76 107.31L504.86 110.01L502.76 112.71L500.66 110.01Z" fill="#2b4a80"/>
<line x1="432" y1="29.7" x2="441.5" y2="29.7" stroke="#263f6c" stroke-width="1.6" stroke-linecap="butt"/>
<path d="M436.8 27L438.9 29.7L436.8 32.4L434.7 29.7Z" fill="#263f6c"/>
<text x="444.2" y="32.3" font-size="7.4" text-anchor="start" fill="#262626" textLength="67" lengthAdjust="spacingAndGlyphs">SQ (6 and 10 ug/kg)</text>
<line x1="432" y1="40.8" x2="441.5" y2="40.8" stroke="#941636" stroke-width="1.6" stroke-linecap="butt"/>
<circle cx="436.8" cy="40.8" r="2.3" fill="#941636"/>
<text x="444.2" y="43.4" font-size="7.4" text-anchor="start" fill="#262626" textLength="63.3" lengthAdjust="spacingAndGlyphs">IV (6 and 10 ug/kg)</text>
<text x="41.2" y="185.4" font-size="11" text-anchor="start" fill="#000" font-weight="bold" style="stroke:#000;stroke-width:0.4px">E</text>
<line x1="85.3" y1="188.4" x2="85.3" y2="282.1" stroke="#1a1a1a" stroke-width="1.25" stroke-linecap="butt"/>
<line x1="82.3" y1="281.5" x2="85.3" y2="281.5" stroke="#1a1a1a" stroke-width="1.1" stroke-linecap="butt"/>
<text x="79" y="284.3" font-size="8.2" text-anchor="end" fill="#262626" textLength="15.96" lengthAdjust="spacingAndGlyphs">0.00</text>
<line x1="82.3" y1="259.07" x2="85.3" y2="259.07" stroke="#1a1a1a" stroke-width="1.1" stroke-linecap="butt"/>
<text x="79" y="261.88" font-size="8.2" text-anchor="end" fill="#262626" textLength="15.96" lengthAdjust="spacingAndGlyphs">0.25</text>
<line x1="82.3" y1="236.65" x2="85.3" y2="236.65" stroke="#1a1a1a" stroke-width="1.1" stroke-linecap="butt"/>
<text x="79" y="239.45" font-size="8.2" text-anchor="end" fill="#262626" textLength="15.96" lengthAdjust="spacingAndGlyphs">0.50</text>
<line x1="82.3" y1="214.22" x2="85.3" y2="214.22" stroke="#1a1a1a" stroke-width="1.1" stroke-linecap="butt"/>
<text x="79" y="217.03" font-size="8.2" text-anchor="end" fill="#262626" textLength="15.96" lengthAdjust="spacingAndGlyphs">0.75</text>
<line x1="82.3" y1="191.8" x2="85.3" y2="191.8" stroke="#1a1a1a" stroke-width="1.1" stroke-linecap="butt"/>
<text x="79" y="194.6" font-size="8.2" text-anchor="end" fill="#262626" textLength="15.96" lengthAdjust="spacingAndGlyphs">1.00</text>
<line x1="84.7" y1="281.5" x2="178.7" y2="281.5" stroke="#1a1a1a" stroke-width="1.3" stroke-linecap="butt"/>
<line x1="85.3" y1="281.5" x2="85.3" y2="284.5" stroke="#1a1a1a" stroke-width="1" stroke-linecap="butt"/>
<text x="85.3" y="294.2" font-size="8.2" text-anchor="middle" fill="#262626" textLength="4.1" lengthAdjust="spacingAndGlyphs">0</text>
<line x1="100.55" y1="281.5" x2="100.55" y2="284.5" stroke="#1a1a1a" stroke-width="1" stroke-linecap="butt"/>
<text x="100.55" y="294.2" font-size="8.2" text-anchor="middle" fill="#262626" textLength="4.1" lengthAdjust="spacingAndGlyphs">5</text>
<line x1="115.8" y1="281.5" x2="115.8" y2="284.5" stroke="#1a1a1a" stroke-width="1" stroke-linecap="butt"/>
<text x="115.8" y="294.2" font-size="8.2" text-anchor="middle" fill="#262626" textLength="8.21" lengthAdjust="spacingAndGlyphs">10</text>
<line x1="131.05" y1="281.5" x2="131.05" y2="284.5" stroke="#1a1a1a" stroke-width="1" stroke-linecap="butt"/>
<text x="131.05" y="294.2" font-size="8.2" text-anchor="middle" fill="#262626" textLength="8.21" lengthAdjust="spacingAndGlyphs">15</text>
<line x1="146.3" y1="281.5" x2="146.3" y2="284.5" stroke="#1a1a1a" stroke-width="1" stroke-linecap="butt"/>
<text x="146.3" y="294.2" font-size="8.2" text-anchor="middle" fill="#262626" textLength="8.21" lengthAdjust="spacingAndGlyphs">20</text>
<line x1="161.55" y1="281.5" x2="161.55" y2="284.5" stroke="#1a1a1a" stroke-width="1" stroke-linecap="butt"/>
<text x="161.55" y="294.2" font-size="8.2" text-anchor="middle" fill="#262626" textLength="8.21" lengthAdjust="spacingAndGlyphs">25</text>
<line x1="176.8" y1="281.5" x2="176.8" y2="284.5" stroke="#1a1a1a" stroke-width="1" stroke-linecap="butt"/>
<text x="176.8" y="294.2" font-size="8.2" text-anchor="middle" fill="#262626" textLength="8.21" lengthAdjust="spacingAndGlyphs">30</text>
<line x1="85.6" y1="302.4" x2="85.6" y2="308.9" stroke="#1a1a1a" stroke-width="1.5" stroke-linecap="butt"/>
<path d="M85.6 299.4L87.95 304.7L83.25 304.7Z" fill="#000"/>
<line x1="107.7" y1="302.4" x2="107.7" y2="308.9" stroke="#1a1a1a" stroke-width="1.5" stroke-linecap="butt"/>
<path d="M107.7 299.4L110.05 304.7L105.35 304.7Z" fill="#000"/>
<line x1="127.2" y1="302.4" x2="127.2" y2="308.9" stroke="#1a1a1a" stroke-width="1.5" stroke-linecap="butt"/>
<path d="M127.2 299.4L129.55 304.7L124.85 304.7Z" fill="#000"/>
<line x1="150.7" y1="302.4" x2="150.7" y2="308.9" stroke="#1a1a1a" stroke-width="1.5" stroke-linecap="butt"/>
<path d="M150.7 299.4L153.05 304.7L148.35 304.7Z" fill="#000"/>
<text x="132.2" y="320.2" font-size="9" text-anchor="middle" fill="#262626" textLength="38" lengthAdjust="spacingAndGlyphs">Time (days)</text>
<text x="58.6" y="235.2" font-size="8.8" text-anchor="middle" fill="#262626" textLength="89" lengthAdjust="spacingAndGlyphs" transform="rotate(-90 58.6 235.2)">CD4 T cell number (k/mm<tspan font-size="5.98" dy="-2.9">3</tspan><tspan dy="2.9">)</tspan></text>
<line x1="85.3" y1="262.66" x2="85.3" y2="248.31" stroke="#941636" stroke-width="1.3" stroke-linecap="butt"/>
<line x1="82.7" y1="262.66" x2="87.9" y2="262.66" stroke="#941636" stroke-width="1.3" stroke-linecap="butt"/>
<line x1="82.7" y1="248.31" x2="87.9" y2="248.31" stroke="#941636" stroke-width="1.3" stroke-linecap="butt"/>
<line x1="94.45" y1="255.49" x2="94.45" y2="246.52" stroke="#941636" stroke-width="1.3" stroke-linecap="butt"/>
<line x1="91.85" y1="255.49" x2="97.05" y2="255.49" stroke="#941636" stroke-width="1.3" stroke-linecap="butt"/>
<line x1="91.85" y1="246.52" x2="97.05" y2="246.52" stroke="#941636" stroke-width="1.3" stroke-linecap="butt"/>
<line x1="100.55" y1="259.97" x2="100.55" y2="250.1" stroke="#941636" stroke-width="1.3" stroke-linecap="butt"/>
<line x1="97.95" y1="259.97" x2="103.15" y2="259.97" stroke="#941636" stroke-width="1.3" stroke-linecap="butt"/>
<line x1="97.95" y1="250.1" x2="103.15" y2="250.1" stroke="#941636" stroke-width="1.3" stroke-linecap="butt"/>
<line x1="106.65" y1="263.56" x2="106.65" y2="258.18" stroke="#941636" stroke-width="1.3" stroke-linecap="butt"/>
<line x1="104.05" y1="263.56" x2="109.25" y2="263.56" stroke="#941636" stroke-width="1.3" stroke-linecap="butt"/>
<line x1="104.05" y1="258.18" x2="109.25" y2="258.18" stroke="#941636" stroke-width="1.3" stroke-linecap="butt"/>
<line x1="128" y1="261.77" x2="128" y2="254.59" stroke="#941636" stroke-width="1.3" stroke-linecap="butt"/>
<line x1="125.4" y1="261.77" x2="130.6" y2="261.77" stroke="#941636" stroke-width="1.3" stroke-linecap="butt"/>
<line x1="125.4" y1="254.59" x2="130.6" y2="254.59" stroke="#941636" stroke-width="1.3" stroke-linecap="butt"/>
<line x1="149.35" y1="260.87" x2="149.35" y2="251" stroke="#941636" stroke-width="1.3" stroke-linecap="butt"/>
<line x1="146.75" y1="260.87" x2="151.95" y2="260.87" stroke="#941636" stroke-width="1.3" stroke-linecap="butt"/>
<line x1="146.75" y1="251" x2="151.95" y2="251" stroke="#941636" stroke-width="1.3" stroke-linecap="butt"/>
<line x1="170.7" y1="255.49" x2="170.7" y2="248.31" stroke="#941636" stroke-width="1.3" stroke-linecap="butt"/>
<line x1="168.1" y1="255.49" x2="173.3" y2="255.49" stroke="#941636" stroke-width="1.3" stroke-linecap="butt"/>
<line x1="168.1" y1="248.31" x2="173.3" y2="248.31" stroke="#941636" stroke-width="1.3" stroke-linecap="butt"/>
<polyline points="85.3,255.49 94.45,251 100.55,255.49 106.65,260.87 128,258.18 149.35,256.38 170.7,251.9" fill="none" stroke="#941636" stroke-width="1.9" stroke-linejoin="round"/>
<circle cx="85.3" cy="255.49" r="2.3" fill="#a5133a"/>
<circle cx="94.45" cy="251" r="2.3" fill="#a5133a"/>
<circle cx="100.55" cy="255.49" r="2.3" fill="#a5133a"/>
<circle cx="106.65" cy="260.87" r="2.3" fill="#a5133a"/>
<circle cx="128" cy="258.18" r="2.3" fill="#a5133a"/>
<circle cx="149.35" cy="256.38" r="2.3" fill="#a5133a"/>
<circle cx="170.7" cy="251.9" r="2.3" fill="#a5133a"/>
<line x1="85.3" y1="258.18" x2="85.3" y2="247.68" stroke="#263f6c" stroke-width="1.3" stroke-linecap="butt"/>
<line x1="82.7" y1="258.18" x2="87.9" y2="258.18" stroke="#263f6c" stroke-width="1.3" stroke-linecap="butt"/>
<line x1="82.7" y1="247.68" x2="87.9" y2="247.68" stroke="#263f6c" stroke-width="1.3" stroke-linecap="butt"/>
<line x1="94.45" y1="261.77" x2="94.45" y2="249.21" stroke="#263f6c" stroke-width="1.3" stroke-linecap="butt"/>
<line x1="91.85" y1="261.77" x2="97.05" y2="261.77" stroke="#263f6c" stroke-width="1.3" stroke-linecap="butt"/>
<line x1="91.85" y1="249.21" x2="97.05" y2="249.21" stroke="#263f6c" stroke-width="1.3" stroke-linecap="butt"/>
<line x1="100.55" y1="267.6" x2="100.55" y2="259.97" stroke="#263f6c" stroke-width="1.3" stroke-linecap="butt"/>
<line x1="97.95" y1="267.6" x2="103.15" y2="267.6" stroke="#263f6c" stroke-width="1.3" stroke-linecap="butt"/>
<line x1="97.95" y1="259.97" x2="103.15" y2="259.97" stroke="#263f6c" stroke-width="1.3" stroke-linecap="butt"/>
<line x1="106.65" y1="262.66" x2="106.65" y2="242.93" stroke="#263f6c" stroke-width="1.3" stroke-linecap="butt"/>
<line x1="104.05" y1="262.66" x2="109.25" y2="262.66" stroke="#263f6c" stroke-width="1.3" stroke-linecap="butt"/>
<line x1="104.05" y1="242.93" x2="109.25" y2="242.93" stroke="#263f6c" stroke-width="1.3" stroke-linecap="butt"/>
<line x1="128" y1="255.49" x2="128" y2="244.72" stroke="#263f6c" stroke-width="1.3" stroke-linecap="butt"/>
<line x1="125.4" y1="255.49" x2="130.6" y2="255.49" stroke="#263f6c" stroke-width="1.3" stroke-linecap="butt"/>
<line x1="125.4" y1="244.72" x2="130.6" y2="244.72" stroke="#263f6c" stroke-width="1.3" stroke-linecap="butt"/>
<line x1="149.35" y1="251.9" x2="149.35" y2="235.3" stroke="#263f6c" stroke-width="1.3" stroke-linecap="butt"/>
<line x1="146.75" y1="251.9" x2="151.95" y2="251.9" stroke="#263f6c" stroke-width="1.3" stroke-linecap="butt"/>
<line x1="146.75" y1="235.3" x2="151.95" y2="235.3" stroke="#263f6c" stroke-width="1.3" stroke-linecap="butt"/>
<line x1="170.7" y1="249.21" x2="170.7" y2="226.78" stroke="#263f6c" stroke-width="1.3" stroke-linecap="butt"/>
<line x1="168.1" y1="249.21" x2="173.3" y2="249.21" stroke="#263f6c" stroke-width="1.3" stroke-linecap="butt"/>
<line x1="168.1" y1="226.78" x2="173.3" y2="226.78" stroke="#263f6c" stroke-width="1.3" stroke-linecap="butt"/>
<polyline points="85.3,252.98 94.45,255.49 100.55,263.92 106.65,252.98 128,250.1 149.35,244.72 170.7,237.55" fill="none" stroke="#263f6c" stroke-width="1.9" stroke-linejoin="round"/>
<path d="M85.3 250.28L87.4 252.98L85.3 255.68L83.2 252.98Z" fill="#2b4a80"/>
<path d="M94.45 252.79L96.55 255.49L94.45 258.19L92.35 255.49Z" fill="#2b4a80"/>
<path d="M100.55 261.22L102.65 263.92L100.55 266.62L98.45 263.92Z" fill="#2b4a80"/>
<path d="M106.65 250.28L108.75 252.98L106.65 255.68L104.55 252.98Z" fill="#2b4a80"/>
<path d="M128 247.41L130.1 250.1L128 252.8L125.9 250.1Z" fill="#2b4a80"/>
<path d="M149.35 242.02L151.45 244.72L149.35 247.42L147.25 244.72Z" fill="#2b4a80"/>
<path d="M170.7 234.85L172.8 237.55L170.7 240.25L168.6 237.55Z" fill="#2b4a80"/>
<line x1="99.6" y1="192.2" x2="109.1" y2="192.2" stroke="#263f6c" stroke-width="1.6" stroke-linecap="butt"/>
<path d="M104.4 189.5L106.5 192.2L104.4 194.9L102.3 192.2Z" fill="#263f6c"/>
<text x="111.9" y="194.8" font-size="7.4" text-anchor="start" fill="#262626" textLength="67.4" lengthAdjust="spacingAndGlyphs">SQ (6 and 10 ug/kg)</text>
<line x1="99.6" y1="203.3" x2="109.1" y2="203.3" stroke="#941636" stroke-width="1.6" stroke-linecap="butt"/>
<circle cx="104.4" cy="203.3" r="2.3" fill="#941636"/>
<text x="111.9" y="205.9" font-size="7.4" text-anchor="start" fill="#262626" textLength="63.3" lengthAdjust="spacingAndGlyphs">IV (6 and 10 ug/kg)</text>
<text x="184.2" y="185.6" font-size="11" text-anchor="start" fill="#000" font-weight="bold" style="stroke:#000;stroke-width:0.4px">F</text>
<line x1="229.4" y1="188.6" x2="229.4" y2="281.9" stroke="#1a1a1a" stroke-width="1.25" stroke-linecap="butt"/>
<line x1="226.4" y1="281.3" x2="229.4" y2="281.3" stroke="#1a1a1a" stroke-width="1.1" stroke-linecap="butt"/>
<text x="223.1" y="284.1" font-size="8.2" text-anchor="end" fill="#262626" textLength="15.96" lengthAdjust="spacingAndGlyphs">0.00</text>
<line x1="226.4" y1="263.45" x2="229.4" y2="263.45" stroke="#1a1a1a" stroke-width="1.1" stroke-linecap="butt"/>
<text x="223.1" y="266.25" font-size="8.2" text-anchor="end" fill="#262626" textLength="15.96" lengthAdjust="spacingAndGlyphs">0.05</text>
<line x1="226.4" y1="245.6" x2="229.4" y2="245.6" stroke="#1a1a1a" stroke-width="1.1" stroke-linecap="butt"/>
<text x="223.1" y="248.4" font-size="8.2" text-anchor="end" fill="#262626" textLength="15.96" lengthAdjust="spacingAndGlyphs">0.10</text>
<line x1="226.4" y1="227.75" x2="229.4" y2="227.75" stroke="#1a1a1a" stroke-width="1.1" stroke-linecap="butt"/>
<text x="223.1" y="230.55" font-size="8.2" text-anchor="end" fill="#262626" textLength="15.96" lengthAdjust="spacingAndGlyphs">0.15</text>
<line x1="226.4" y1="209.9" x2="229.4" y2="209.9" stroke="#1a1a1a" stroke-width="1.1" stroke-linecap="butt"/>
<text x="223.1" y="212.7" font-size="8.2" text-anchor="end" fill="#262626" textLength="15.96" lengthAdjust="spacingAndGlyphs">0.20</text>
<line x1="226.4" y1="192.05" x2="229.4" y2="192.05" stroke="#1a1a1a" stroke-width="1.1" stroke-linecap="butt"/>
<text x="223.1" y="194.85" font-size="8.2" text-anchor="end" fill="#262626" textLength="15.96" lengthAdjust="spacingAndGlyphs">0.25</text>
<line x1="228.8" y1="281.3" x2="322.6" y2="281.3" stroke="#1a1a1a" stroke-width="1.3" stroke-linecap="butt"/>
<line x1="229.3" y1="281.3" x2="229.3" y2="284.3" stroke="#1a1a1a" stroke-width="1" stroke-linecap="butt"/>
<text x="229.3" y="294.2" font-size="8.2" text-anchor="middle" fill="#262626" textLength="4.1" lengthAdjust="spacingAndGlyphs">0</text>
<line x1="244.55" y1="281.3" x2="244.55" y2="284.3" stroke="#1a1a1a" stroke-width="1" stroke-linecap="butt"/>
<text x="244.55" y="294.2" font-size="8.2" text-anchor="middle" fill="#262626" textLength="4.1" lengthAdjust="spacingAndGlyphs">5</text>
<line x1="259.8" y1="281.3" x2="259.8" y2="284.3" stroke="#1a1a1a" stroke-width="1" stroke-linecap="butt"/>
<text x="259.8" y="294.2" font-size="8.2" text-anchor="middle" fill="#262626" textLength="8.21" lengthAdjust="spacingAndGlyphs">10</text>
<line x1="275.05" y1="281.3" x2="275.05" y2="284.3" stroke="#1a1a1a" stroke-width="1" stroke-linecap="butt"/>
<text x="275.05" y="294.2" font-size="8.2" text-anchor="middle" fill="#262626" textLength="8.21" lengthAdjust="spacingAndGlyphs">15</text>
<line x1="290.3" y1="281.3" x2="290.3" y2="284.3" stroke="#1a1a1a" stroke-width="1" stroke-linecap="butt"/>
<text x="290.3" y="294.2" font-size="8.2" text-anchor="middle" fill="#262626" textLength="8.21" lengthAdjust="spacingAndGlyphs">20</text>
<line x1="305.55" y1="281.3" x2="305.55" y2="284.3" stroke="#1a1a1a" stroke-width="1" stroke-linecap="butt"/>
<text x="305.55" y="294.2" font-size="8.2" text-anchor="middle" fill="#262626" textLength="8.21" lengthAdjust="spacingAndGlyphs">25</text>
<line x1="320.8" y1="281.3" x2="320.8" y2="284.3" stroke="#1a1a1a" stroke-width="1" stroke-linecap="butt"/>
<text x="320.8" y="294.2" font-size="8.2" text-anchor="middle" fill="#262626" textLength="8.21" lengthAdjust="spacingAndGlyphs">30</text>
<line x1="229.6" y1="302.4" x2="229.6" y2="308.9" stroke="#1a1a1a" stroke-width="1.5" stroke-linecap="butt"/>
<path d="M229.6 299.4L231.95 304.7L227.25 304.7Z" fill="#000"/>
<line x1="251.7" y1="302.4" x2="251.7" y2="308.9" stroke="#1a1a1a" stroke-width="1.5" stroke-linecap="butt"/>
<path d="M251.7 299.4L254.05 304.7L249.35 304.7Z" fill="#000"/>
<line x1="271.2" y1="302.4" x2="271.2" y2="308.9" stroke="#1a1a1a" stroke-width="1.5" stroke-linecap="butt"/>
<path d="M271.2 299.4L273.55 304.7L268.85 304.7Z" fill="#000"/>
<line x1="294.3" y1="302.4" x2="294.3" y2="308.9" stroke="#1a1a1a" stroke-width="1.5" stroke-linecap="butt"/>
<path d="M294.3 299.4L296.65 304.7L291.95 304.7Z" fill="#000"/>
<text x="276.4" y="320.2" font-size="9" text-anchor="middle" fill="#262626" textLength="38" lengthAdjust="spacingAndGlyphs">Time (days)</text>
<text x="200.3" y="240.6" font-size="8.8" text-anchor="middle" fill="#262626" textLength="84.6" lengthAdjust="spacingAndGlyphs" transform="rotate(-90 200.3 240.6)">Treg cell number (k/mm<tspan font-size="5.98" dy="-2.9">3</tspan><tspan dy="2.9">)</tspan></text>
<line x1="229.3" y1="272.38" x2="229.3" y2="267.02" stroke="#941636" stroke-width="1.3" stroke-linecap="butt"/>
<line x1="226.7" y1="272.38" x2="231.9" y2="272.38" stroke="#941636" stroke-width="1.3" stroke-linecap="butt"/>
<line x1="226.7" y1="267.02" x2="231.9" y2="267.02" stroke="#941636" stroke-width="1.3" stroke-linecap="butt"/>
<line x1="238.45" y1="267.02" x2="238.45" y2="261.67" stroke="#941636" stroke-width="1.3" stroke-linecap="butt"/>
<line x1="235.85" y1="267.02" x2="241.05" y2="267.02" stroke="#941636" stroke-width="1.3" stroke-linecap="butt"/>
<line x1="235.85" y1="261.67" x2="241.05" y2="261.67" stroke="#941636" stroke-width="1.3" stroke-linecap="butt"/>
<line x1="244.55" y1="270.59" x2="244.55" y2="265.24" stroke="#941636" stroke-width="1.3" stroke-linecap="butt"/>
<line x1="241.95" y1="270.59" x2="247.15" y2="270.59" stroke="#941636" stroke-width="1.3" stroke-linecap="butt"/>
<line x1="241.95" y1="265.24" x2="247.15" y2="265.24" stroke="#941636" stroke-width="1.3" stroke-linecap="butt"/>
<line x1="250.65" y1="275.23" x2="250.65" y2="270.95" stroke="#941636" stroke-width="1.3" stroke-linecap="butt"/>
<line x1="248.05" y1="275.23" x2="253.25" y2="275.23" stroke="#941636" stroke-width="1.3" stroke-linecap="butt"/>
<line x1="248.05" y1="270.95" x2="253.25" y2="270.95" stroke="#941636" stroke-width="1.3" stroke-linecap="butt"/>
<line x1="272" y1="274.16" x2="272" y2="272.73" stroke="#941636" stroke-width="1.3" stroke-linecap="butt"/>
<line x1="269.4" y1="274.16" x2="274.6" y2="274.16" stroke="#941636" stroke-width="1.3" stroke-linecap="butt"/>
<line x1="269.4" y1="272.73" x2="274.6" y2="272.73" stroke="#941636" stroke-width="1.3" stroke-linecap="butt"/>
<line x1="293.35" y1="274.16" x2="293.35" y2="267.73" stroke="#941636" stroke-width="1.3" stroke-linecap="butt"/>
<line x1="290.75" y1="274.16" x2="295.95" y2="274.16" stroke="#941636" stroke-width="1.3" stroke-linecap="butt"/>
<line x1="290.75" y1="267.73" x2="295.95" y2="267.73" stroke="#941636" stroke-width="1.3" stroke-linecap="butt"/>
<line x1="314.7" y1="272.38" x2="314.7" y2="268.81" stroke="#941636" stroke-width="1.3" stroke-linecap="butt"/>
<line x1="312.1" y1="272.38" x2="317.3" y2="272.38" stroke="#941636" stroke-width="1.3" stroke-linecap="butt"/>
<line x1="312.1" y1="268.81" x2="317.3" y2="268.81" stroke="#941636" stroke-width="1.3" stroke-linecap="butt"/>
<polyline points="229.3,269.88 238.45,264.88 244.55,268.09 250.65,273.09 272,273.45 293.35,270.95 314.7,270.95" fill="none" stroke="#941636" stroke-width="1.9" stroke-linejoin="round"/>
<circle cx="229.3" cy="269.88" r="2.3" fill="#a5133a"/>
<circle cx="238.45" cy="264.88" r="2.3" fill="#a5133a"/>
<circle cx="244.55" cy="268.09" r="2.3" fill="#a5133a"/>
<circle cx="250.65" cy="273.09" r="2.3" fill="#a5133a"/>
<circle cx="272" cy="273.45" r="2.3" fill="#a5133a"/>
<circle cx="293.35" cy="270.95" r="2.3" fill="#a5133a"/>
<circle cx="314.7" cy="270.95" r="2.3" fill="#a5133a"/>
<line x1="229.3" y1="270.59" x2="229.3" y2="265.24" stroke="#263f6c" stroke-width="1.3" stroke-linecap="butt"/>
<line x1="226.7" y1="270.59" x2="231.9" y2="270.59" stroke="#263f6c" stroke-width="1.3" stroke-linecap="butt"/>
<line x1="226.7" y1="265.24" x2="231.9" y2="265.24" stroke="#263f6c" stroke-width="1.3" stroke-linecap="butt"/>
<line x1="238.45" y1="270.95" x2="238.45" y2="268.81" stroke="#263f6c" stroke-width="1.3" stroke-linecap="butt"/>
<line x1="235.85" y1="270.95" x2="241.05" y2="270.95" stroke="#263f6c" stroke-width="1.3" stroke-linecap="butt"/>
<line x1="235.85" y1="268.81" x2="241.05" y2="268.81" stroke="#263f6c" stroke-width="1.3" stroke-linecap="butt"/>
<line x1="244.55" y1="273.45" x2="244.55" y2="271.3" stroke="#263f6c" stroke-width="1.3" stroke-linecap="butt"/>
<line x1="241.95" y1="273.45" x2="247.15" y2="273.45" stroke="#263f6c" stroke-width="1.3" stroke-linecap="butt"/>
<line x1="241.95" y1="271.3" x2="247.15" y2="271.3" stroke="#263f6c" stroke-width="1.3" stroke-linecap="butt"/>
<line x1="250.65" y1="272.02" x2="250.65" y2="269.52" stroke="#263f6c" stroke-width="1.3" stroke-linecap="butt"/>
<line x1="248.05" y1="272.02" x2="253.25" y2="272.02" stroke="#263f6c" stroke-width="1.3" stroke-linecap="butt"/>
<line x1="248.05" y1="269.52" x2="253.25" y2="269.52" stroke="#263f6c" stroke-width="1.3" stroke-linecap="butt"/>
<line x1="272" y1="268.81" x2="272" y2="266.66" stroke="#263f6c" stroke-width="1.3" stroke-linecap="butt"/>
<line x1="269.4" y1="268.81" x2="274.6" y2="268.81" stroke="#263f6c" stroke-width="1.3" stroke-linecap="butt"/>
<line x1="269.4" y1="266.66" x2="274.6" y2="266.66" stroke="#263f6c" stroke-width="1.3" stroke-linecap="butt"/>
<line x1="293.35" y1="269.52" x2="293.35" y2="262.74" stroke="#263f6c" stroke-width="1.3" stroke-linecap="butt"/>
<line x1="290.75" y1="269.52" x2="295.95" y2="269.52" stroke="#263f6c" stroke-width="1.3" stroke-linecap="butt"/>
<line x1="290.75" y1="262.74" x2="295.95" y2="262.74" stroke="#263f6c" stroke-width="1.3" stroke-linecap="butt"/>
<line x1="314.7" y1="265.95" x2="314.7" y2="258.1" stroke="#263f6c" stroke-width="1.3" stroke-linecap="butt"/>
<line x1="312.1" y1="265.95" x2="317.3" y2="265.95" stroke="#263f6c" stroke-width="1.3" stroke-linecap="butt"/>
<line x1="312.1" y1="258.1" x2="317.3" y2="258.1" stroke="#263f6c" stroke-width="1.3" stroke-linecap="butt"/>
<polyline points="229.3,268.09 238.45,269.88 244.55,272.38 250.65,270.95 272,267.73 293.35,266.31 314.7,262.38" fill="none" stroke="#263f6c" stroke-width="1.9" stroke-linejoin="round"/>
<path d="M229.3 265.39L231.4 268.09L229.3 270.79L227.2 268.09Z" fill="#2b4a80"/>
<path d="M238.45 267.18L240.55 269.88L238.45 272.58L236.35 269.88Z" fill="#2b4a80"/>
<path d="M244.55 269.68L246.65 272.38L244.55 275.07L242.45 272.38Z" fill="#2b4a80"/>
<path d="M250.65 268.25L252.75 270.95L250.65 273.65L248.55 270.95Z" fill="#2b4a80"/>
<path d="M272 265.03L274.1 267.73L272 270.43L269.9 267.73Z" fill="#2b4a80"/>
<path d="M293.35 263.61L295.45 266.31L293.35 269.01L291.25 266.31Z" fill="#2b4a80"/>
<path d="M314.7 259.68L316.8 262.38L314.7 265.08L312.6 262.38Z" fill="#2b4a80"/>
<line x1="243" y1="192.2" x2="252.5" y2="192.2" stroke="#263f6c" stroke-width="1.6" stroke-linecap="butt"/>
<path d="M247.8 189.5L249.9 192.2L247.8 194.9L245.7 192.2Z" fill="#263f6c"/>
<text x="255" y="194.8" font-size="7.4" text-anchor="start" fill="#262626" textLength="68.2" lengthAdjust="spacingAndGlyphs">SQ (6 and 10 ug/kg)</text>
<line x1="243" y1="203.3" x2="252.5" y2="203.3" stroke="#941636" stroke-width="1.6" stroke-linecap="butt"/>
<circle cx="247.8" cy="203.3" r="2.3" fill="#941636"/>
<text x="255" y="205.9" font-size="7.4" text-anchor="start" fill="#262626" textLength="64.3" lengthAdjust="spacingAndGlyphs">IV (6 and 10 ug/kg)</text>
<text x="327.6" y="186.2" font-size="11" text-anchor="start" fill="#000" font-weight="bold" style="stroke:#000;stroke-width:0.4px">G</text>
<line x1="364.5" y1="188.2" x2="364.5" y2="281.9" stroke="#1a1a1a" stroke-width="1.25" stroke-linecap="butt"/>
<line x1="361.5" y1="281.3" x2="364.5" y2="281.3" stroke="#1a1a1a" stroke-width="1.1" stroke-linecap="butt"/>
<text x="358.2" y="284.1" font-size="8.2" text-anchor="end" fill="#262626" textLength="4.24" lengthAdjust="spacingAndGlyphs">0</text>
<line x1="361.5" y1="258.77" x2="364.5" y2="258.77" stroke="#1a1a1a" stroke-width="1.1" stroke-linecap="butt"/>
<text x="358.2" y="261.57" font-size="8.2" text-anchor="end" fill="#262626" textLength="8.48" lengthAdjust="spacingAndGlyphs">20</text>
<line x1="361.5" y1="236.24" x2="364.5" y2="236.24" stroke="#1a1a1a" stroke-width="1.1" stroke-linecap="butt"/>
<text x="358.2" y="239.04" font-size="8.2" text-anchor="end" fill="#262626" textLength="8.48" lengthAdjust="spacingAndGlyphs">40</text>
<line x1="361.5" y1="213.71" x2="364.5" y2="213.71" stroke="#1a1a1a" stroke-width="1.1" stroke-linecap="butt"/>
<text x="358.2" y="216.51" font-size="8.2" text-anchor="end" fill="#262626" textLength="8.48" lengthAdjust="spacingAndGlyphs">60</text>
<line x1="361.5" y1="191.18" x2="364.5" y2="191.18" stroke="#1a1a1a" stroke-width="1.1" stroke-linecap="butt"/>
<text x="358.2" y="193.98" font-size="8.2" text-anchor="end" fill="#262626" textLength="8.48" lengthAdjust="spacingAndGlyphs">80</text>
<line x1="363.9" y1="281.3" x2="479.1" y2="281.3" stroke="#1a1a1a" stroke-width="1.3" stroke-linecap="butt"/>
<text x="343.5" y="234.9" font-size="8.6" text-anchor="middle" fill="#262626" textLength="69.5" lengthAdjust="spacingAndGlyphs" transform="rotate(-90 343.5 234.9)">Percent of CD8 T cells</text>
<polyline points="371,274.99 379.6,278.48 388.2,276.23" fill="none" stroke="#000" stroke-width="1.8" stroke-linejoin="round"/>
<polyline points="371,272.74 379.6,277.58 388.2,273.3" fill="none" stroke="#000" stroke-width="1.8" stroke-linejoin="round"/>
<polyline points="371,276.01 379.6,279.05 388.2,276.79" fill="none" stroke="#000" stroke-width="1.8" stroke-linejoin="round"/>
<polyline points="371,277.92 379.6,279.61 388.2,277.92" fill="none" stroke="#000" stroke-width="1.8" stroke-linejoin="round"/>
<polyline points="371,280.74 379.6,280.51 388.2,281.07" fill="none" stroke="#000" stroke-width="1.8" stroke-linejoin="round"/>
<polyline points="397.8,212.92 407,246.04 416.4,217.99" fill="none" stroke="#000" stroke-width="1.8" stroke-linejoin="round"/>
<polyline points="397.8,205.37 407,204.13 416.4,207.51" fill="none" stroke="#000" stroke-width="1.8" stroke-linejoin="round"/>
<polyline points="397.8,242.32 407,252.35 416.4,236.24" fill="none" stroke="#000" stroke-width="1.8" stroke-linejoin="round"/>
<polyline points="397.8,249.53 407,246.04 416.4,236.24" fill="none" stroke="#000" stroke-width="1.8" stroke-linejoin="round"/>
<polyline points="397.8,227.68 407,238.49 416.4,225.2" fill="none" stroke="#000" stroke-width="1.8" stroke-linejoin="round"/>
<polyline points="425.7,280.17 434.8,280.17 443.6,280.17" fill="none" stroke="#000" stroke-width="1.8" stroke-linejoin="round"/>
<polyline points="425.7,278.71 434.8,280.4 443.6,279.05" fill="none" stroke="#000" stroke-width="1.8" stroke-linejoin="round"/>
<polyline points="425.7,280.74 434.8,280.74 443.6,280.74" fill="none" stroke="#000" stroke-width="1.8" stroke-linejoin="round"/>
<polyline points="425.7,280.17 434.8,280.17 443.6,280.62" fill="none" stroke="#000" stroke-width="1.8" stroke-linejoin="round"/>
<polyline points="425.7,279.05 434.8,278.71 443.6,279.95" fill="none" stroke="#000" stroke-width="1.8" stroke-linejoin="round"/>
<polyline points="453.2,240.97 462.1,206.73 471.4,233.87" fill="none" stroke="#000" stroke-width="1.8" stroke-linejoin="round"/>
<polyline points="453.2,258.66 462.1,253.59 471.4,254.94" fill="none" stroke="#000" stroke-width="1.8" stroke-linejoin="round"/>
<polyline points="453.2,219.91 462.1,206.73 471.4,218.89" fill="none" stroke="#000" stroke-width="1.8" stroke-linejoin="round"/>
<polyline points="453.2,207.18 462.1,206.73 471.4,218.89" fill="none" stroke="#000" stroke-width="1.8" stroke-linejoin="round"/>
<polyline points="453.2,230.49 462.1,219.91 471.4,230.49" fill="none" stroke="#000" stroke-width="1.8" stroke-linejoin="round"/>
<circle cx="371" cy="280.74" r="2.5" fill="#2d4f8a"/>
<circle cx="379.6" cy="280.51" r="2.5" fill="#2d4f8a"/>
<circle cx="388.2" cy="281.07" r="2.5" fill="#2d4f8a"/>
<circle cx="371" cy="277.92" r="2.5" fill="#64aa3a"/>
<circle cx="379.6" cy="279.61" r="2.5" fill="#64aa3a"/>
<circle cx="388.2" cy="277.92" r="2.5" fill="#64aa3a"/>
<circle cx="371" cy="276.01" r="2.5" fill="#e0981f"/>
<circle cx="379.6" cy="279.05" r="2.5" fill="#e0981f"/>
<circle cx="388.2" cy="276.79" r="2.5" fill="#e0981f"/>
<circle cx="371" cy="274.99" r="2.5" fill="#a8102f"/>
<circle cx="379.6" cy="278.48" r="2.5" fill="#a8102f"/>
<circle cx="388.2" cy="276.23" r="2.5" fill="#a8102f"/>
<circle cx="371" cy="272.74" r="2.5" fill="#4b2568"/>
<circle cx="379.6" cy="277.58" r="2.5" fill="#4b2568"/>
<circle cx="388.2" cy="273.3" r="2.5" fill="#4b2568"/>
<circle cx="397.8" cy="212.92" r="2.5" fill="#a8102f"/>
<circle cx="407" cy="246.04" r="2.5" fill="#a8102f"/>
<circle cx="416.4" cy="217.99" r="2.5" fill="#a8102f"/>
<circle cx="397.8" cy="242.32" r="2.5" fill="#e0981f"/>
<circle cx="407" cy="252.35" r="2.5" fill="#e0981f"/>
<circle cx="416.4" cy="236.24" r="2.5" fill="#e0981f"/>
<circle cx="397.8" cy="205.37" r="2.5" fill="#4b2568"/>
<circle cx="407" cy="204.13" r="2.5" fill="#4b2568"/>
<circle cx="416.4" cy="207.51" r="2.5" fill="#4b2568"/>
<circle cx="397.8" cy="227.68" r="2.5" fill="#2d4f8a"/>
<circle cx="407" cy="238.49" r="2.5" fill="#2d4f8a"/>
<circle cx="416.4" cy="225.2" r="2.5" fill="#2d4f8a"/>
<circle cx="397.8" cy="249.53" r="2.5" fill="#64aa3a"/>
<circle cx="407" cy="246.04" r="2.5" fill="#64aa3a"/>
<circle cx="416.4" cy="236.24" r="2.5" fill="#64aa3a"/>
<circle cx="425.7" cy="280.17" r="2.5" fill="#64aa3a"/>
<circle cx="434.8" cy="280.17" r="2.5" fill="#64aa3a"/>
<circle cx="443.6" cy="280.62" r="2.5" fill="#64aa3a"/>
<circle cx="425.7" cy="280.74" r="2.5" fill="#e0981f"/>
<circle cx="434.8" cy="280.74" r="2.5" fill="#e0981f"/>
<circle cx="443.6" cy="280.74" r="2.5" fill="#e0981f"/>
<circle cx="425.7" cy="280.17" r="2.5" fill="#a8102f"/>
<circle cx="434.8" cy="280.17" r="2.5" fill="#a8102f"/>
<circle cx="443.6" cy="280.17" r="2.5" fill="#a8102f"/>
<circle cx="425.7" cy="279.05" r="2.5" fill="#2d4f8a"/>
<circle cx="434.8" cy="278.71" r="2.5" fill="#2d4f8a"/>
<circle cx="443.6" cy="279.95" r="2.5" fill="#2d4f8a"/>
<circle cx="425.7" cy="278.71" r="2.5" fill="#4b2568"/>
<circle cx="434.8" cy="280.4" r="2.5" fill="#4b2568"/>
<circle cx="443.6" cy="279.05" r="2.5" fill="#4b2568"/>
<circle cx="453.2" cy="240.97" r="2.5" fill="#a8102f"/>
<circle cx="462.1" cy="206.73" r="2.5" fill="#a8102f"/>
<circle cx="471.4" cy="233.87" r="2.5" fill="#a8102f"/>
<circle cx="453.2" cy="219.91" r="2.5" fill="#e0981f"/>
<circle cx="462.1" cy="206.73" r="2.5" fill="#e0981f"/>
<circle cx="471.4" cy="218.89" r="2.5" fill="#e0981f"/>
<circle cx="453.2" cy="258.66" r="2.5" fill="#4b2568"/>
<circle cx="462.1" cy="253.59" r="2.5" fill="#4b2568"/>
<circle cx="471.4" cy="254.94" r="2.5" fill="#4b2568"/>
<circle cx="453.2" cy="230.49" r="2.5" fill="#2d4f8a"/>
<circle cx="462.1" cy="219.91" r="2.5" fill="#2d4f8a"/>
<circle cx="471.4" cy="230.49" r="2.5" fill="#2d4f8a"/>
<circle cx="453.2" cy="207.18" r="2.5" fill="#64aa3a"/>
<circle cx="462.1" cy="206.73" r="2.5" fill="#64aa3a"/>
<circle cx="471.4" cy="218.89" r="2.5" fill="#64aa3a"/>
<text x="371.3" y="291.6" font-size="7.6" text-anchor="middle" fill="#262626">0</text>
<text x="378.8" y="291.6" font-size="7.6" text-anchor="middle" fill="#262626">5</text>
<text x="386.1" y="291.6" font-size="7.6" text-anchor="middle" fill="#262626">7</text>
<line x1="369.6" y1="294.4" x2="388" y2="294.4" stroke="#1a1a1a" stroke-width="1.2" stroke-linecap="butt"/>
<text x="379" y="304.4" font-size="8.3" text-anchor="middle" fill="#262626" textLength="19.95" lengthAdjust="spacingAndGlyphs">Naive</text>
<text x="398.8" y="291.6" font-size="7.6" text-anchor="middle" fill="#262626">0</text>
<text x="406.3" y="291.6" font-size="7.6" text-anchor="middle" fill="#262626">5</text>
<text x="413.6" y="291.6" font-size="7.6" text-anchor="middle" fill="#262626">7</text>
<line x1="397.1" y1="294.4" x2="415.5" y2="294.4" stroke="#1a1a1a" stroke-width="1.2" stroke-linecap="butt"/>
<text x="406.5" y="304.4" font-size="8.3" text-anchor="middle" fill="#262626" textLength="5.2" lengthAdjust="spacingAndGlyphs">E</text>
<text x="426.35" y="291.6" font-size="7.6" text-anchor="middle" fill="#262626">0</text>
<text x="433.85" y="291.6" font-size="7.6" text-anchor="middle" fill="#262626">5</text>
<text x="441.15" y="291.6" font-size="7.6" text-anchor="middle" fill="#262626">7</text>
<line x1="424.65" y1="294.4" x2="443.05" y2="294.4" stroke="#1a1a1a" stroke-width="1.2" stroke-linecap="butt"/>
<text x="434.05" y="304.4" font-size="8.3" text-anchor="middle" fill="#262626" textLength="12.13" lengthAdjust="spacingAndGlyphs">CM</text>
<text x="454" y="291.6" font-size="7.6" text-anchor="middle" fill="#262626">0</text>
<text x="461.5" y="291.6" font-size="7.6" text-anchor="middle" fill="#262626">5</text>
<text x="468.8" y="291.6" font-size="7.6" text-anchor="middle" fill="#262626">7</text>
<line x1="452.3" y1="294.4" x2="470.7" y2="294.4" stroke="#1a1a1a" stroke-width="1.2" stroke-linecap="butt"/>
<text x="461.7" y="304.4" font-size="8.3" text-anchor="middle" fill="#262626" textLength="11.7" lengthAdjust="spacingAndGlyphs">EM</text>
<text x="56.8" y="347.6" font-size="11" text-anchor="start" fill="#000" font-weight="bold" style="stroke:#000;stroke-width:0.4px">H</text>
<line x1="97.4" y1="351.3" x2="97.4" y2="444.9" stroke="#1a1a1a" stroke-width="1.25" stroke-linecap="butt"/>
<line x1="94.4" y1="444.3" x2="97.4" y2="444.3" stroke="#1a1a1a" stroke-width="1.1" stroke-linecap="butt"/>
<text x="91.1" y="447.1" font-size="8.2" text-anchor="end" fill="#262626" textLength="4.24" lengthAdjust="spacingAndGlyphs">0</text>
<line x1="94.4" y1="426.24" x2="97.4" y2="426.24" stroke="#1a1a1a" stroke-width="1.1" stroke-linecap="butt"/>
<text x="91.1" y="429.04" font-size="8.2" text-anchor="end" fill="#262626" textLength="8.48" lengthAdjust="spacingAndGlyphs">20</text>
<line x1="94.4" y1="408.18" x2="97.4" y2="408.18" stroke="#1a1a1a" stroke-width="1.1" stroke-linecap="butt"/>
<text x="91.1" y="410.98" font-size="8.2" text-anchor="end" fill="#262626" textLength="8.48" lengthAdjust="spacingAndGlyphs">40</text>
<line x1="94.4" y1="390.12" x2="97.4" y2="390.12" stroke="#1a1a1a" stroke-width="1.1" stroke-linecap="butt"/>
<text x="91.1" y="392.92" font-size="8.2" text-anchor="end" fill="#262626" textLength="8.48" lengthAdjust="spacingAndGlyphs">60</text>
<line x1="94.4" y1="372.06" x2="97.4" y2="372.06" stroke="#1a1a1a" stroke-width="1.1" stroke-linecap="butt"/>
<text x="91.1" y="374.86" font-size="8.2" text-anchor="end" fill="#262626" textLength="8.48" lengthAdjust="spacingAndGlyphs">80</text>
<line x1="94.4" y1="354" x2="97.4" y2="354" stroke="#1a1a1a" stroke-width="1.1" stroke-linecap="butt"/>
<text x="91.1" y="356.8" font-size="8.2" text-anchor="end" fill="#262626" textLength="12.72" lengthAdjust="spacingAndGlyphs">100</text>
<line x1="96.8" y1="444.3" x2="231.7" y2="444.3" stroke="#1a1a1a" stroke-width="1.3" stroke-linecap="butt"/>
<text x="72.5" y="397.9" font-size="8.8" text-anchor="middle" fill="#262626" textLength="47.4" lengthAdjust="spacingAndGlyphs" transform="rotate(-90 72.5 397.9)">Percent Ki67+</text>
<polyline points="103,437.98 111.9,378.02 120.6,414.5" fill="none" stroke="#000" stroke-width="1.7" stroke-linejoin="round"/>
<polyline points="103,430.94 111.9,407.19 120.6,421.54" fill="none" stroke="#000" stroke-width="1.7" stroke-linejoin="round"/>
<polyline points="103,439.79 111.9,410.62 120.6,432.02" fill="none" stroke="#000" stroke-width="1.7" stroke-linejoin="round"/>
<polyline points="103,425.61 111.9,401.5 120.6,416.22" fill="none" stroke="#000" stroke-width="1.7" stroke-linejoin="round"/>
<polyline points="103,437.26 111.9,413.87 120.6,411.7" fill="none" stroke="#000" stroke-width="1.7" stroke-linejoin="round"/>
<polyline points="129,442.49 137.8,429.49 146.7,431.21" fill="none" stroke="#000" stroke-width="1.7" stroke-linejoin="round"/>
<polyline points="129,442.31 137.8,416.67 146.7,437.89" fill="none" stroke="#000" stroke-width="1.7" stroke-linejoin="round"/>
<polyline points="129,441.59 137.8,424.16 146.7,442.31" fill="none" stroke="#000" stroke-width="1.7" stroke-linejoin="round"/>
<polyline points="129,439.33 137.8,429.85 146.7,431.48" fill="none" stroke="#000" stroke-width="1.7" stroke-linejoin="round"/>
<polyline points="129,443.4 137.8,434.01 146.7,427.87" fill="none" stroke="#000" stroke-width="1.7" stroke-linejoin="round"/>
<polyline points="155.3,438.88 163.8,397.61 172.3,426.24" fill="none" stroke="#000" stroke-width="1.7" stroke-linejoin="round"/>
<polyline points="155.3,433.73 163.8,412.79 172.3,426.33" fill="none" stroke="#000" stroke-width="1.7" stroke-linejoin="round"/>
<polyline points="155.3,443.85 163.8,424.7 172.3,438.61" fill="none" stroke="#000" stroke-width="1.7" stroke-linejoin="round"/>
<polyline points="155.3,440.69 163.8,421.73 172.3,416.76" fill="none" stroke="#000" stroke-width="1.7" stroke-linejoin="round"/>
<polyline points="155.3,442.04 163.8,421.36 172.3,416.49" fill="none" stroke="#000" stroke-width="1.7" stroke-linejoin="round"/>
<polyline points="181.1,416.13 189.9,404.84 198.6,414.5" fill="none" stroke="#000" stroke-width="1.7" stroke-linejoin="round"/>
<polyline points="181.1,435.27 189.9,416.67 198.6,425.34" fill="none" stroke="#000" stroke-width="1.7" stroke-linejoin="round"/>
<polyline points="181.1,439.88 189.9,420.55 198.6,436.62" fill="none" stroke="#000" stroke-width="1.7" stroke-linejoin="round"/>
<polyline points="181.1,427.59 189.9,412.79 198.6,414.77" fill="none" stroke="#000" stroke-width="1.7" stroke-linejoin="round"/>
<polyline points="181.1,435.09 189.9,420.73 198.6,409.9" fill="none" stroke="#000" stroke-width="1.7" stroke-linejoin="round"/>
<polyline points="206.9,404.39 216,366.82 224.9,403.67" fill="none" stroke="#000" stroke-width="1.7" stroke-linejoin="round"/>
<polyline points="206.9,413.96 216,388.13 224.9,402.13" fill="none" stroke="#000" stroke-width="1.7" stroke-linejoin="round"/>
<polyline points="206.9,436.17 216,406.19 224.9,425.61" fill="none" stroke="#000" stroke-width="1.7" stroke-linejoin="round"/>
<polyline points="206.9,420.1 216,394.18 224.9,409.53" fill="none" stroke="#000" stroke-width="1.7" stroke-linejoin="round"/>
<polyline points="206.9,433.64 216,406.19 224.9,404.57" fill="none" stroke="#000" stroke-width="1.7" stroke-linejoin="round"/>
<circle cx="103" cy="437.98" r="2.3" fill="#a8102f"/>
<circle cx="111.9" cy="378.02" r="2.3" fill="#a8102f"/>
<circle cx="120.6" cy="414.5" r="2.3" fill="#a8102f"/>
<circle cx="103" cy="439.79" r="2.3" fill="#e0981f"/>
<circle cx="111.9" cy="410.62" r="2.3" fill="#e0981f"/>
<circle cx="120.6" cy="432.02" r="2.3" fill="#e0981f"/>
<circle cx="103" cy="430.94" r="2.3" fill="#4b2568"/>
<circle cx="111.9" cy="407.19" r="2.3" fill="#4b2568"/>
<circle cx="120.6" cy="421.54" r="2.3" fill="#4b2568"/>
<circle cx="103" cy="437.26" r="2.3" fill="#2d4f8a"/>
<circle cx="111.9" cy="413.87" r="2.3" fill="#2d4f8a"/>
<circle cx="120.6" cy="411.7" r="2.3" fill="#2d4f8a"/>
<circle cx="103" cy="425.61" r="2.3" fill="#64aa3a"/>
<circle cx="111.9" cy="401.5" r="2.3" fill="#64aa3a"/>
<circle cx="120.6" cy="416.22" r="2.3" fill="#64aa3a"/>
<circle cx="129" cy="443.4" r="2.3" fill="#2d4f8a"/>
<circle cx="137.8" cy="434.01" r="2.3" fill="#2d4f8a"/>
<circle cx="146.7" cy="427.87" r="2.3" fill="#2d4f8a"/>
<circle cx="129" cy="439.33" r="2.3" fill="#64aa3a"/>
<circle cx="137.8" cy="429.85" r="2.3" fill="#64aa3a"/>
<circle cx="146.7" cy="431.48" r="2.3" fill="#64aa3a"/>
<circle cx="129" cy="442.49" r="2.3" fill="#a8102f"/>
<circle cx="137.8" cy="429.49" r="2.3" fill="#a8102f"/>
<circle cx="146.7" cy="431.21" r="2.3" fill="#a8102f"/>
<circle cx="129" cy="441.59" r="2.3" fill="#e0981f"/>
<circle cx="137.8" cy="424.16" r="2.3" fill="#e0981f"/>
<circle cx="146.7" cy="442.31" r="2.3" fill="#e0981f"/>
<circle cx="129" cy="442.31" r="2.3" fill="#4b2568"/>
<circle cx="137.8" cy="416.67" r="2.3" fill="#4b2568"/>
<circle cx="146.7" cy="437.89" r="2.3" fill="#4b2568"/>
<circle cx="155.3" cy="440.69" r="2.3" fill="#64aa3a"/>
<circle cx="163.8" cy="421.73" r="2.3" fill="#64aa3a"/>
<circle cx="172.3" cy="416.76" r="2.3" fill="#64aa3a"/>
<circle cx="155.3" cy="438.88" r="2.3" fill="#a8102f"/>
<circle cx="163.8" cy="397.61" r="2.3" fill="#a8102f"/>
<circle cx="172.3" cy="426.24" r="2.3" fill="#a8102f"/>
<circle cx="155.3" cy="443.85" r="2.3" fill="#e0981f"/>
<circle cx="163.8" cy="424.7" r="2.3" fill="#e0981f"/>
<circle cx="172.3" cy="438.61" r="2.3" fill="#e0981f"/>
<circle cx="155.3" cy="433.73" r="2.3" fill="#4b2568"/>
<circle cx="163.8" cy="412.79" r="2.3" fill="#4b2568"/>
<circle cx="172.3" cy="426.33" r="2.3" fill="#4b2568"/>
<circle cx="155.3" cy="442.04" r="2.3" fill="#2d4f8a"/>
<circle cx="163.8" cy="421.36" r="2.3" fill="#2d4f8a"/>
<circle cx="172.3" cy="416.49" r="2.3" fill="#2d4f8a"/>
<circle cx="181.1" cy="416.13" r="2.3" fill="#a8102f"/>
<circle cx="189.9" cy="404.84" r="2.3" fill="#a8102f"/>
<circle cx="198.6" cy="414.5" r="2.3" fill="#a8102f"/>
<circle cx="181.1" cy="439.88" r="2.3" fill="#e0981f"/>
<circle cx="189.9" cy="420.55" r="2.3" fill="#e0981f"/>
<circle cx="198.6" cy="436.62" r="2.3" fill="#e0981f"/>
<circle cx="181.1" cy="435.09" r="2.3" fill="#2d4f8a"/>
<circle cx="189.9" cy="420.73" r="2.3" fill="#2d4f8a"/>
<circle cx="198.6" cy="409.9" r="2.3" fill="#2d4f8a"/>
<circle cx="181.1" cy="435.27" r="2.3" fill="#4b2568"/>
<circle cx="189.9" cy="416.67" r="2.3" fill="#4b2568"/>
<circle cx="198.6" cy="425.34" r="2.3" fill="#4b2568"/>
<circle cx="181.1" cy="427.59" r="2.3" fill="#64aa3a"/>
<circle cx="189.9" cy="412.79" r="2.3" fill="#64aa3a"/>
<circle cx="198.6" cy="414.77" r="2.3" fill="#64aa3a"/>
<circle cx="206.9" cy="404.39" r="2.3" fill="#a8102f"/>
<circle cx="216" cy="366.82" r="2.3" fill="#a8102f"/>
<circle cx="224.9" cy="403.67" r="2.3" fill="#a8102f"/>
<circle cx="206.9" cy="436.17" r="2.3" fill="#e0981f"/>
<circle cx="216" cy="406.19" r="2.3" fill="#e0981f"/>
<circle cx="224.9" cy="425.61" r="2.3" fill="#e0981f"/>
<circle cx="206.9" cy="413.96" r="2.3" fill="#4b2568"/>
<circle cx="216" cy="388.13" r="2.3" fill="#4b2568"/>
<circle cx="224.9" cy="402.13" r="2.3" fill="#4b2568"/>
<circle cx="206.9" cy="433.64" r="2.3" fill="#2d4f8a"/>
<circle cx="216" cy="406.19" r="2.3" fill="#2d4f8a"/>
<circle cx="224.9" cy="404.57" r="2.3" fill="#2d4f8a"/>
<circle cx="206.9" cy="420.1" r="2.3" fill="#64aa3a"/>
<circle cx="216" cy="394.18" r="2.3" fill="#64aa3a"/>
<circle cx="224.9" cy="409.53" r="2.3" fill="#64aa3a"/>
<text x="104.2" y="454.6" font-size="7.6" text-anchor="middle" fill="#262626">0</text>
<text x="111.4" y="454.6" font-size="7.6" text-anchor="middle" fill="#262626">5</text>
<text x="118.4" y="454.6" font-size="7.6" text-anchor="middle" fill="#262626">7</text>
<line x1="102.65" y1="457.2" x2="120.15" y2="457.2" stroke="#1a1a1a" stroke-width="1.2" stroke-linecap="butt"/>
<text x="111.6" y="467" font-size="8.3" text-anchor="middle" fill="#262626" textLength="15.61" lengthAdjust="spacingAndGlyphs">CD8</text>
<text x="130.25" y="454.6" font-size="7.6" text-anchor="middle" fill="#262626">0</text>
<text x="137.45" y="454.6" font-size="7.6" text-anchor="middle" fill="#262626">5</text>
<text x="144.45" y="454.6" font-size="7.6" text-anchor="middle" fill="#262626">7</text>
<line x1="128.7" y1="457.2" x2="146.2" y2="457.2" stroke="#1a1a1a" stroke-width="1.2" stroke-linecap="butt"/>
<text x="137.65" y="467" font-size="8.3" text-anchor="middle" fill="#262626" textLength="19.95" lengthAdjust="spacingAndGlyphs">Naive</text>
<text x="156.2" y="454.6" font-size="7.6" text-anchor="middle" fill="#262626">0</text>
<text x="163.4" y="454.6" font-size="7.6" text-anchor="middle" fill="#262626">5</text>
<text x="170.4" y="454.6" font-size="7.6" text-anchor="middle" fill="#262626">7</text>
<line x1="154.65" y1="457.2" x2="172.15" y2="457.2" stroke="#1a1a1a" stroke-width="1.2" stroke-linecap="butt"/>
<text x="163.6" y="467" font-size="8.3" text-anchor="middle" fill="#262626" textLength="5.2" lengthAdjust="spacingAndGlyphs">E</text>
<text x="182.25" y="454.6" font-size="7.6" text-anchor="middle" fill="#262626">0</text>
<text x="189.45" y="454.6" font-size="7.6" text-anchor="middle" fill="#262626">5</text>
<text x="196.45" y="454.6" font-size="7.6" text-anchor="middle" fill="#262626">7</text>
<line x1="180.7" y1="457.2" x2="198.2" y2="457.2" stroke="#1a1a1a" stroke-width="1.2" stroke-linecap="butt"/>
<text x="189.65" y="467" font-size="8.3" text-anchor="middle" fill="#262626" textLength="12.13" lengthAdjust="spacingAndGlyphs">CM</text>
<text x="208.3" y="454.6" font-size="7.6" text-anchor="middle" fill="#262626">0</text>
<text x="215.5" y="454.6" font-size="7.6" text-anchor="middle" fill="#262626">5</text>
<text x="222.5" y="454.6" font-size="7.6" text-anchor="middle" fill="#262626">7</text>
<line x1="206.75" y1="457.2" x2="224.25" y2="457.2" stroke="#1a1a1a" stroke-width="1.2" stroke-linecap="butt"/>
<text x="215.7" y="467" font-size="8.3" text-anchor="middle" fill="#262626" textLength="11.7" lengthAdjust="spacingAndGlyphs">EM</text>
<line x1="159.4" y1="359.4" x2="216.7" y2="359.4" stroke="#1a1a1a" stroke-width="1.1" stroke-linecap="butt"/>
<line x1="159.4" y1="358.9" x2="159.4" y2="363.2" stroke="#1a1a1a" stroke-width="1.1" stroke-linecap="butt"/>
<line x1="216.7" y1="358.9" x2="216.7" y2="363.2" stroke="#1a1a1a" stroke-width="1.1" stroke-linecap="butt"/>
<text x="187.9" y="356" font-size="7.4" text-anchor="middle" fill="#262626" textLength="22.8" lengthAdjust="spacingAndGlyphs">P&lt;0.01</text>
<text x="234.6" y="347.2" font-size="11" text-anchor="start" fill="#000" font-weight="bold" style="stroke:#000;stroke-width:0.4px">I</text>
<line x1="265.7" y1="351" x2="265.7" y2="444.9" stroke="#1a1a1a" stroke-width="1.25" stroke-linecap="butt"/>
<line x1="262.7" y1="444.3" x2="265.7" y2="444.3" stroke="#1a1a1a" stroke-width="1.1" stroke-linecap="butt"/>
<text x="259.4" y="447.1" font-size="8.2" text-anchor="end" fill="#262626" textLength="4.24" lengthAdjust="spacingAndGlyphs">0</text>
<line x1="262.7" y1="421.73" x2="265.7" y2="421.73" stroke="#1a1a1a" stroke-width="1.1" stroke-linecap="butt"/>
<text x="259.4" y="424.53" font-size="8.2" text-anchor="end" fill="#262626" textLength="4.24" lengthAdjust="spacingAndGlyphs">5</text>
<line x1="262.7" y1="399.15" x2="265.7" y2="399.15" stroke="#1a1a1a" stroke-width="1.1" stroke-linecap="butt"/>
<text x="259.4" y="401.95" font-size="8.2" text-anchor="end" fill="#262626" textLength="8.48" lengthAdjust="spacingAndGlyphs">10</text>
<line x1="262.7" y1="376.58" x2="265.7" y2="376.58" stroke="#1a1a1a" stroke-width="1.1" stroke-linecap="butt"/>
<text x="259.4" y="379.38" font-size="8.2" text-anchor="end" fill="#262626" textLength="8.48" lengthAdjust="spacingAndGlyphs">15</text>
<line x1="262.7" y1="354" x2="265.7" y2="354" stroke="#1a1a1a" stroke-width="1.1" stroke-linecap="butt"/>
<text x="259.4" y="356.8" font-size="8.2" text-anchor="end" fill="#262626" textLength="8.48" lengthAdjust="spacingAndGlyphs">20</text>
<line x1="265.1" y1="444.3" x2="401.7" y2="444.3" stroke="#1a1a1a" stroke-width="1.3" stroke-linecap="butt"/>
<text x="245.7" y="397.8" font-size="8.8" text-anchor="middle" fill="#262626" textLength="49.4" lengthAdjust="spacingAndGlyphs" transform="rotate(-90 245.7 397.8)">Percent TIM-3+</text>
<polyline points="274.2,437.98 287.4,419.92" fill="none" stroke="#000" stroke-width="1.7" stroke-linejoin="round"/>
<polyline points="274.2,438.43 287.4,431.21" fill="none" stroke="#000" stroke-width="1.7" stroke-linejoin="round"/>
<polyline points="274.2,438.88 287.4,431.21" fill="none" stroke="#000" stroke-width="1.7" stroke-linejoin="round"/>
<polyline points="274.2,420.37 287.4,384.7" fill="none" stroke="#000" stroke-width="1.7" stroke-linejoin="round"/>
<polyline points="274.2,428.95 287.4,400.5" fill="none" stroke="#000" stroke-width="1.7" stroke-linejoin="round"/>
<polyline points="300.6,441.59 313.6,437.53" fill="none" stroke="#000" stroke-width="1.7" stroke-linejoin="round"/>
<polyline points="300.6,442.04 313.6,439.33" fill="none" stroke="#000" stroke-width="1.7" stroke-linejoin="round"/>
<polyline points="300.6,439.79 313.6,435.27" fill="none" stroke="#000" stroke-width="1.7" stroke-linejoin="round"/>
<polyline points="300.6,440.69 313.6,433.01" fill="none" stroke="#000" stroke-width="1.7" stroke-linejoin="round"/>
<polyline points="300.6,441.14 313.6,431.21" fill="none" stroke="#000" stroke-width="1.7" stroke-linejoin="round"/>
<polyline points="326.5,440.24 339.5,427.14" fill="none" stroke="#000" stroke-width="1.7" stroke-linejoin="round"/>
<polyline points="326.5,440.24 339.5,435.72" fill="none" stroke="#000" stroke-width="1.7" stroke-linejoin="round"/>
<polyline points="326.5,439.79 339.5,432.11" fill="none" stroke="#000" stroke-width="1.7" stroke-linejoin="round"/>
<polyline points="326.5,428.95 339.5,399.15" fill="none" stroke="#000" stroke-width="1.7" stroke-linejoin="round"/>
<polyline points="326.5,433.92 339.5,415.4" fill="none" stroke="#000" stroke-width="1.7" stroke-linejoin="round"/>
<polyline points="352.8,438.88 366,418.11" fill="none" stroke="#000" stroke-width="1.7" stroke-linejoin="round"/>
<polyline points="352.8,438.88 366,439.79" fill="none" stroke="#000" stroke-width="1.7" stroke-linejoin="round"/>
<polyline points="352.8,441.14 366,433.46" fill="none" stroke="#000" stroke-width="1.7" stroke-linejoin="round"/>
<polyline points="352.8,410.44 366,384.7" fill="none" stroke="#000" stroke-width="1.7" stroke-linejoin="round"/>
<polyline points="352.8,428.05 366,414.95" fill="none" stroke="#000" stroke-width="1.7" stroke-linejoin="round"/>
<polyline points="378.8,433.46 392,417.66" fill="none" stroke="#000" stroke-width="1.7" stroke-linejoin="round"/>
<polyline points="378.8,433.46 392,416.31" fill="none" stroke="#000" stroke-width="1.7" stroke-linejoin="round"/>
<polyline points="378.8,438.43 392,429.4" fill="none" stroke="#000" stroke-width="1.7" stroke-linejoin="round"/>
<polyline points="378.8,416.31 392,377.93" fill="none" stroke="#000" stroke-width="1.7" stroke-linejoin="round"/>
<polyline points="378.8,423.53 392,389.22" fill="none" stroke="#000" stroke-width="1.7" stroke-linejoin="round"/>
<circle cx="274.2" cy="437.98" r="2.3" fill="#a8102f"/>
<circle cx="287.4" cy="419.92" r="2.3" fill="#a8102f"/>
<circle cx="274.2" cy="438.88" r="2.3" fill="#e0981f"/>
<circle cx="287.4" cy="431.21" r="2.3" fill="#e0981f"/>
<circle cx="274.2" cy="438.43" r="2.3" fill="#4b2568"/>
<circle cx="287.4" cy="431.21" r="2.3" fill="#4b2568"/>
<circle cx="274.2" cy="428.95" r="2.3" fill="#2d4f8a"/>
<circle cx="287.4" cy="400.5" r="2.3" fill="#2d4f8a"/>
<circle cx="274.2" cy="420.37" r="2.3" fill="#64aa3a"/>
<circle cx="287.4" cy="384.7" r="2.3" fill="#64aa3a"/>
<circle cx="300.6" cy="440.69" r="2.3" fill="#64aa3a"/>
<circle cx="313.6" cy="433.01" r="2.3" fill="#64aa3a"/>
<circle cx="300.6" cy="441.59" r="2.3" fill="#a8102f"/>
<circle cx="313.6" cy="437.53" r="2.3" fill="#a8102f"/>
<circle cx="300.6" cy="439.79" r="2.3" fill="#e0981f"/>
<circle cx="313.6" cy="435.27" r="2.3" fill="#e0981f"/>
<circle cx="300.6" cy="442.04" r="2.3" fill="#4b2568"/>
<circle cx="313.6" cy="439.33" r="2.3" fill="#4b2568"/>
<circle cx="300.6" cy="441.14" r="2.3" fill="#2d4f8a"/>
<circle cx="313.6" cy="431.21" r="2.3" fill="#2d4f8a"/>
<circle cx="326.5" cy="440.24" r="2.3" fill="#a8102f"/>
<circle cx="339.5" cy="427.14" r="2.3" fill="#a8102f"/>
<circle cx="326.5" cy="439.79" r="2.3" fill="#e0981f"/>
<circle cx="339.5" cy="432.11" r="2.3" fill="#e0981f"/>
<circle cx="326.5" cy="440.24" r="2.3" fill="#4b2568"/>
<circle cx="339.5" cy="435.72" r="2.3" fill="#4b2568"/>
<circle cx="326.5" cy="433.92" r="2.3" fill="#2d4f8a"/>
<circle cx="339.5" cy="415.4" r="2.3" fill="#2d4f8a"/>
<circle cx="326.5" cy="428.95" r="2.3" fill="#64aa3a"/>
<circle cx="339.5" cy="399.15" r="2.3" fill="#64aa3a"/>
<circle cx="352.8" cy="438.88" r="2.3" fill="#a8102f"/>
<circle cx="366" cy="418.11" r="2.3" fill="#a8102f"/>
<circle cx="352.8" cy="441.14" r="2.3" fill="#e0981f"/>
<circle cx="366" cy="433.46" r="2.3" fill="#e0981f"/>
<circle cx="352.8" cy="438.88" r="2.3" fill="#4b2568"/>
<circle cx="366" cy="439.79" r="2.3" fill="#4b2568"/>
<circle cx="352.8" cy="428.05" r="2.3" fill="#2d4f8a"/>
<circle cx="366" cy="414.95" r="2.3" fill="#2d4f8a"/>
<circle cx="352.8" cy="410.44" r="2.3" fill="#64aa3a"/>
<circle cx="366" cy="384.7" r="2.3" fill="#64aa3a"/>
<circle cx="378.8" cy="433.46" r="2.3" fill="#a8102f"/>
<circle cx="392" cy="417.66" r="2.3" fill="#a8102f"/>
<circle cx="378.8" cy="438.43" r="2.3" fill="#e0981f"/>
<circle cx="392" cy="429.4" r="2.3" fill="#e0981f"/>
<circle cx="378.8" cy="433.46" r="2.3" fill="#4b2568"/>
<circle cx="392" cy="416.31" r="2.3" fill="#4b2568"/>
<circle cx="378.8" cy="423.53" r="2.3" fill="#2d4f8a"/>
<circle cx="392" cy="389.22" r="2.3" fill="#2d4f8a"/>
<circle cx="378.8" cy="416.31" r="2.3" fill="#64aa3a"/>
<circle cx="392" cy="377.93" r="2.3" fill="#64aa3a"/>
<text x="273.3" y="454.9" font-size="7.6" text-anchor="middle" fill="#262626">0</text>
<text x="285.9" y="454.9" font-size="7.6" text-anchor="middle" fill="#262626">5</text>
<line x1="271" y1="457.1" x2="288.2" y2="457.1" stroke="#1a1a1a" stroke-width="1.2" stroke-linecap="butt"/>
<text x="279.8" y="467.3" font-size="8.3" text-anchor="middle" fill="#262626" textLength="15.61" lengthAdjust="spacingAndGlyphs">CD8</text>
<text x="299.6" y="454.9" font-size="7.6" text-anchor="middle" fill="#262626">0</text>
<text x="312.2" y="454.9" font-size="7.6" text-anchor="middle" fill="#262626">5</text>
<line x1="297.3" y1="457.1" x2="314.5" y2="457.1" stroke="#1a1a1a" stroke-width="1.2" stroke-linecap="butt"/>
<text x="306.1" y="467.3" font-size="8.3" text-anchor="middle" fill="#262626" textLength="19.95" lengthAdjust="spacingAndGlyphs">Naive</text>
<text x="325.5" y="454.9" font-size="7.6" text-anchor="middle" fill="#262626">0</text>
<text x="338.1" y="454.9" font-size="7.6" text-anchor="middle" fill="#262626">5</text>
<line x1="323.2" y1="457.1" x2="340.4" y2="457.1" stroke="#1a1a1a" stroke-width="1.2" stroke-linecap="butt"/>
<text x="332" y="467.3" font-size="8.3" text-anchor="middle" fill="#262626" textLength="5.2" lengthAdjust="spacingAndGlyphs">E</text>
<text x="351.9" y="454.9" font-size="7.6" text-anchor="middle" fill="#262626">0</text>
<text x="364.5" y="454.9" font-size="7.6" text-anchor="middle" fill="#262626">5</text>
<line x1="349.6" y1="457.1" x2="366.8" y2="457.1" stroke="#1a1a1a" stroke-width="1.2" stroke-linecap="butt"/>
<text x="358.4" y="467.3" font-size="8.3" text-anchor="middle" fill="#262626" textLength="12.13" lengthAdjust="spacingAndGlyphs">CM</text>
<text x="377.9" y="454.9" font-size="7.6" text-anchor="middle" fill="#262626">0</text>
<text x="390.5" y="454.9" font-size="7.6" text-anchor="middle" fill="#262626">5</text>
<line x1="375.6" y1="457.1" x2="392.8" y2="457.1" stroke="#1a1a1a" stroke-width="1.2" stroke-linecap="butt"/>
<text x="384.4" y="467.3" font-size="8.3" text-anchor="middle" fill="#262626" textLength="11.7" lengthAdjust="spacingAndGlyphs">EM</text>
<line x1="269.4" y1="373.2" x2="286.6" y2="373.2" stroke="#1a1a1a" stroke-width="1.2" stroke-linecap="butt"/>
<line x1="269.4" y1="372.6" x2="269.4" y2="376.9" stroke="#1a1a1a" stroke-width="1.2" stroke-linecap="butt"/>
<line x1="286.6" y1="372.6" x2="286.6" y2="376.9" stroke="#1a1a1a" stroke-width="1.2" stroke-linecap="butt"/>
<text x="278" y="370" font-size="7.9" text-anchor="middle" fill="#262626" textLength="14" lengthAdjust="spacingAndGlyphs">0.02</text>
<line x1="297.6" y1="421" x2="314.8" y2="421" stroke="#1a1a1a" stroke-width="1.2" stroke-linecap="butt"/>
<line x1="297.6" y1="420.4" x2="297.6" y2="424.7" stroke="#1a1a1a" stroke-width="1.2" stroke-linecap="butt"/>
<line x1="314.8" y1="420.4" x2="314.8" y2="424.7" stroke="#1a1a1a" stroke-width="1.2" stroke-linecap="butt"/>
<text x="306.2" y="417.8" font-size="7.9" text-anchor="middle" fill="#262626" textLength="14" lengthAdjust="spacingAndGlyphs">0.02</text>
<line x1="324.2" y1="387.6" x2="341.4" y2="387.6" stroke="#1a1a1a" stroke-width="1.2" stroke-linecap="butt"/>
<line x1="324.2" y1="387" x2="324.2" y2="391.3" stroke="#1a1a1a" stroke-width="1.2" stroke-linecap="butt"/>
<line x1="341.4" y1="387" x2="341.4" y2="391.3" stroke="#1a1a1a" stroke-width="1.2" stroke-linecap="butt"/>
<text x="332.8" y="384.4" font-size="7.9" text-anchor="middle" fill="#262626" textLength="14" lengthAdjust="spacingAndGlyphs">0.03</text>
<line x1="352.2" y1="371.6" x2="369.2" y2="371.6" stroke="#1a1a1a" stroke-width="1.2" stroke-linecap="butt"/>
<line x1="352.2" y1="371" x2="352.2" y2="375.3" stroke="#1a1a1a" stroke-width="1.2" stroke-linecap="butt"/>
<line x1="369.2" y1="371" x2="369.2" y2="375.3" stroke="#1a1a1a" stroke-width="1.2" stroke-linecap="butt"/>
<text x="360.7" y="368.4" font-size="7.9" text-anchor="middle" fill="#262626" textLength="14" lengthAdjust="spacingAndGlyphs">0.05</text>
<line x1="376.5" y1="365.8" x2="393.7" y2="365.8" stroke="#1a1a1a" stroke-width="1.2" stroke-linecap="butt"/>
<line x1="376.5" y1="365.2" x2="376.5" y2="369.5" stroke="#1a1a1a" stroke-width="1.2" stroke-linecap="butt"/>
<line x1="393.7" y1="365.2" x2="393.7" y2="369.5" stroke="#1a1a1a" stroke-width="1.2" stroke-linecap="butt"/>
<text x="385.1" y="362.6" font-size="7.9" text-anchor="middle" fill="#262626" textLength="14" lengthAdjust="spacingAndGlyphs">0.01</text>
<circle cx="421.8" cy="364.2" r="5.2" fill="#a8102f"/>
<text x="433.2" y="367.2" font-size="8.5" text-anchor="start" fill="#262626" textLength="29.8" lengthAdjust="spacingAndGlyphs">UMN018</text>
<circle cx="421.8" cy="380.72" r="5.2" fill="#4b2568"/>
<text x="433.2" y="383.72" font-size="8.5" text-anchor="start" fill="#262626" textLength="29.8" lengthAdjust="spacingAndGlyphs">UMN019</text>
<circle cx="421.8" cy="397.24" r="5.2" fill="#e0981f"/>
<text x="433.2" y="400.24" font-size="8.5" text-anchor="start" fill="#262626" textLength="29.8" lengthAdjust="spacingAndGlyphs">UMN020</text>
<circle cx="421.8" cy="413.76" r="5.2" fill="#64aa3a"/>
<text x="433.2" y="416.76" font-size="8.5" text-anchor="start" fill="#262626" textLength="29.8" lengthAdjust="spacingAndGlyphs">UMN021</text>
<circle cx="421.8" cy="430.28" r="5.2" fill="#2d4f8a"/>
<text x="433.2" y="433.28" font-size="8.5" text-anchor="start" fill="#262626" textLength="29.8" lengthAdjust="spacingAndGlyphs">UMN023</text>
<rect x="0.5" y="0.5" width="519" height="475" fill="none" stroke="#000" stroke-width="1.4"/>
</svg>
</body></html>
